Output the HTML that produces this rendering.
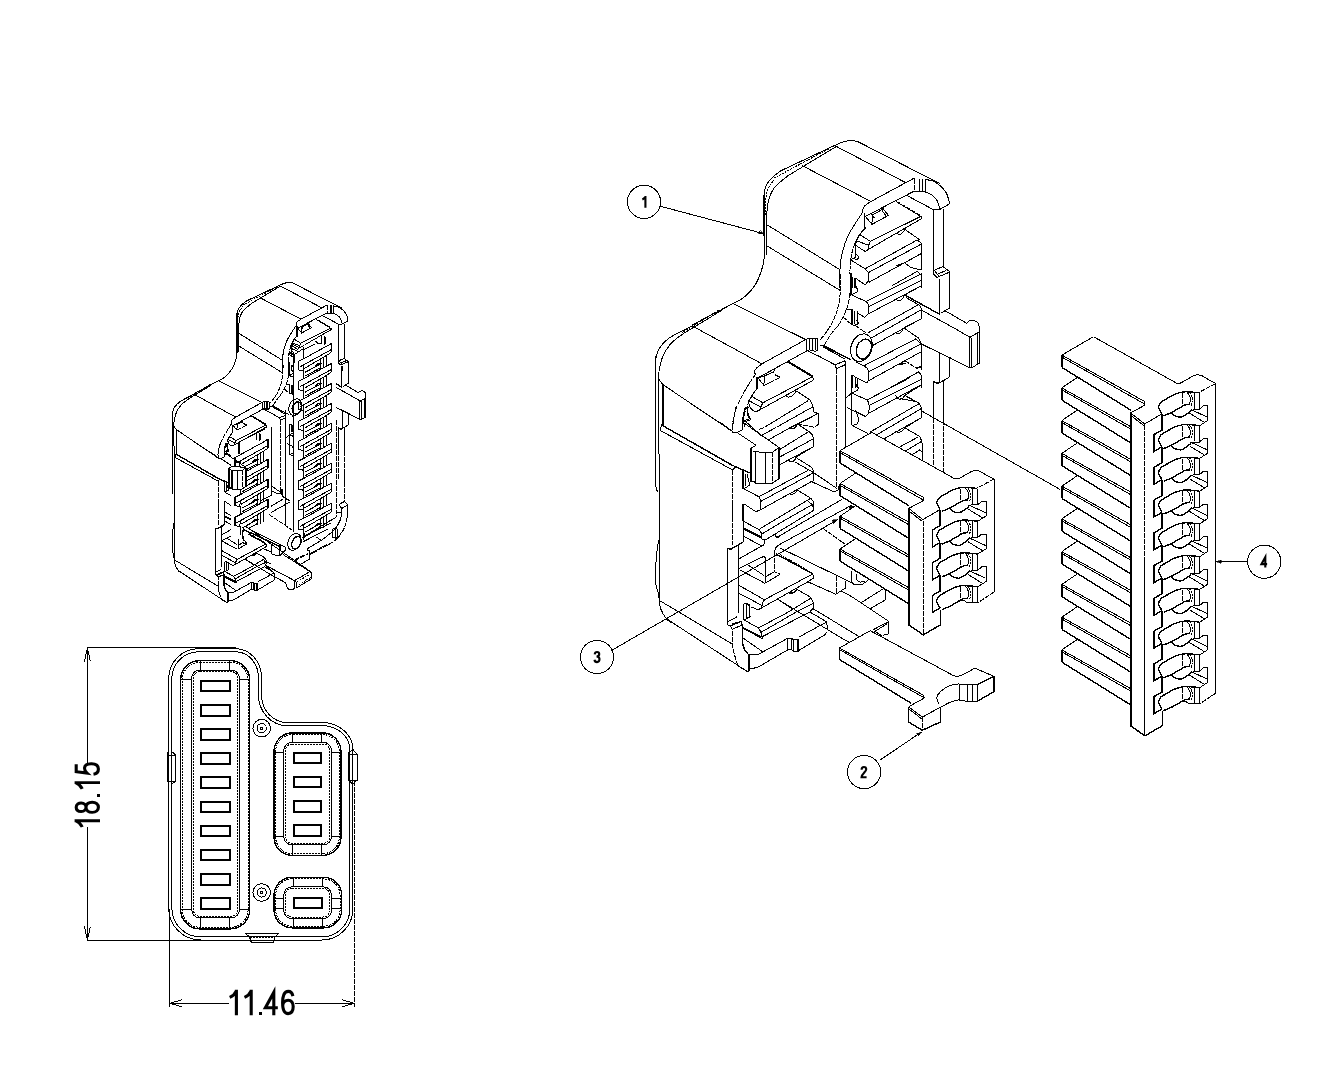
<!DOCTYPE html>
<html><head><meta charset="utf-8"><title>Connector assembly drawing</title>
<style>
html,body{margin:0;padding:0;background:#fff;}
body{width:1323px;height:1075px;overflow:hidden;font-family:"Liberation Sans",sans-serif;}
svg{display:block;shape-rendering:crispEdges}
.l{fill:none;stroke:#000;stroke-width:1}
.m{fill:none;stroke:#000;stroke-width:1.4}
.b{fill:none;stroke:#000;stroke-width:2}
.d{fill:none;stroke:#000;stroke-width:1;stroke-dasharray:2 1}
.d2{fill:none;stroke:#000;stroke-width:1;stroke-dasharray:5 1}
.w{fill:#fff;stroke:none}
.sm path,.sm ellipse{vector-effect:non-scaling-stroke}
.k{fill:#000;stroke:#000;stroke-width:0.6}
.dt{font-family:"Liberation Sans",sans-serif;font-size:35px;fill:#000}
.bt{font-family:"Liberation Sans",sans-serif;font-size:16px;font-weight:bold;fill:#000;text-anchor:middle}
</style></head>
<body>
<svg width="1323" height="1075" viewBox="0 0 1323 1075">
<rect width="1323" height="1075" fill="#fff"/>
<g id="smalliso">
<g transform="translate(-220.7 197.7) scale(0.599 0.603)" class="sm">
<path class="l" d="M763.7 235.8 L763.7 198"/>
<path class="l" d="M763.7 198 C763.9 196.8 764.1 192.9 764.6 190.5 C765.2 188.1 765.9 185.9 767.2 183.7 C768.5 181.4 770.2 179.3 772.5 177.2 C774.8 175 779.4 171.9 780.8 170.8"/>
<path class="l" d="M780.8 170.8 L833.7 145.9"/>
<path class="l" d="M833.7 145.9 C835.2 145.2 840 143 842.8 142.1 C845.6 141.2 848 140.7 850.4 140.6 C852.7 140.5 856 141.2 857.2 141.3"/>
<path class="l" d="M857.2 141.3 L940 183.7"/>
<path class="l" d="M766.8 255.5 L766.9 211.6"/>
<path class="l" d="M766.9 211.6 C767.2 209.6 767.8 203.1 768.7 199.5 C769.7 196 771 193 772.5 190.5 C774 187.9 775.1 186.6 777.8 184.1 C780.4 181.6 786.6 176.8 788.4 175.4"/>
<path class="l" d="M788.4 175.4 L836.7 146.3"/>
<path class="d" d="M774 178.1 L830.7 147.8"/>
<path class="d" d="M765.1 214.7 C765.1 212.4 764.9 205.3 765.4 201.1 C765.9 196.8 766.5 192.5 768 189 C769.4 185.4 773 181.4 774 179.9"/>
<path class="m" d="M764.2 191.8 L764.2 257.1"/>
<path class="l" d="M764.2 257.1 C763.9 258.7 763.9 262.6 762.5 267.1 C761.1 271.6 758.9 278.8 755.8 283.8 C752.8 288.9 748 293.9 744.1 297.2 C740.2 300.6 734.4 302.8 732.4 303.9"/>
<path class="l" d="M732.4 303.9 L692.2 324.9"/>
<path class="l" d="M692.9 325.5 C690.9 326.5 684.8 329.4 680.8 331.6 C676.8 333.7 672.1 335.9 668.7 338.4 C665.3 340.9 662.5 343.7 660.4 346.7 C658.3 349.7 657.1 353.4 656.3 356.5 C655.5 359.7 655.7 364.1 655.6 365.6"/>
<path class="l" d="M721.6 310.4 L692.9 327.8"/>
<path class="l" d="M692.9 327.8 C690.9 329.1 684.6 332.6 680.8 335.4 C677 338.1 673.3 340.9 670.2 344.4 C667.2 347.9 664.6 352 662.7 356.5 C660.8 361.1 659.5 369.1 658.9 371.6"/>
<path class="d" d="M718.6 310.4 L682.3 332.3"/>
<path class="l" d="M658.9 371.6 L658.9 379.2 L662.7 384.5"/>
<path class="l" d="M836.7 146.6 L904.8 182.2"/>
<path class="l" d="M802 165.5 L871.5 201.8"/>
<path class="l" d="M766.5 224.5 L839 269.1"/>
<path class="l" d="M766.5 245.6 L839.8 290.2"/>
<path class="l" d="M733 303.6 L806.3 339.9"/>
<path class="l" d="M692.9 326.3 L762.4 364.1"/>
<path class="l" d="M662.7 384.5 L732.2 431.3"/>
<path class="l" d="M655.6 356 L655.6 486 L657.5 492"/>
<path class="l" d="M658.9 373 L659.2 600.5"/>
<path class="m" d="M663 384.5 L663 424.5"/>
<path class="l" d="M658.7 540 C658.3 542.5 657 549.7 656.5 555 C656 560.3 655.8 567.2 655.7 572 C655.6 576.8 655.5 580.7 655.9 584 C656.3 587.3 657.4 589.2 658 592 C658.6 594.8 659.2 599.1 659.5 600.5"/>
<path class="l" d="M659.2 600.5 C659.5 602 659.8 606.5 661 609.5 C662.2 612.5 664.7 616.5 666.3 618.6 C667.9 620.8 670 621.8 670.8 622.4"/>
<path class="l" d="M666.3 618.6 L747.2 671.5"/>
<path class="l" d="M659.5 600.5 L732.8 644.3"/>
<path class="l" d="M914.4 178 L870.9 201.5"/>
<path class="l" d="M870.9 201.5 C870.2 202 867.7 203.4 866.4 204.5 C865.1 205.5 863.8 206.7 863.2 207.9 C862.5 209.2 862.8 211.4 862.8 212.1"/>
<path class="l" d="M914.4 191 L865.4 216.4"/>
<path class="m" d="M864.5 212.9 L864.5 226.9 L865.4 228.9"/>
<path class="d2" d="M914.4 178.5 L914.4 191"/>
<path class="l" d="M919.8 178.5 L919.8 191.8"/>
<path class="l" d="M922.3 178.5 L922.3 191.8"/>
<path class="l" d="M925.3 178.5 L925.3 191.8"/>
<path class="l" d="M913.9 191.5 L919.8 191.8 L925.3 192"/>
<path class="l" d="M925.3 179.5 C926.6 179.8 930.4 180 932.8 181 C935.2 182 937.6 183.7 939.8 185.5 C942 187.3 944.3 189.6 945.8 192 C947.3 194.4 948.2 198 948.8 200 C949.4 202 949.2 203.3 949.3 204"/>
<path class="l" d="M949.3 204 L939.8 209.4 L933.8 209.9"/>
<path class="l" d="M925.3 192 C926.4 192.5 929.8 193.5 931.8 195 C933.8 196.5 936 198.5 937.3 201 C938.6 203.4 939.4 208 939.8 209.4"/>
<path class="l" d="M906.9 195.5 L933.8 209.9"/>
<path class="m" d="M933.3 209.9 L933.3 274.3 L937.3 277.3"/>
<path class="l" d="M943.3 208.9 L943.3 266.8"/>
<path class="l" d="M934.3 270.3 L942.8 266.6 L949.8 271.8 L949.8 287.8"/>
<path class="l" d="M937.3 277.3 L949.3 272.3"/>
<path class="l" d="M939.8 279.8 L939.8 287.8"/>
<path class="l" d="M938.3 273.8 L945.8 270.6"/>
<path class="l" d="M934.8 271.3 L938.8 275.8"/>
<path class="l" d="M865.4 216.4 L871.9 224.4 L888.4 215.4 L882.9 208.4"/>
<path class="l" d="M871.9 224.4 L872.4 215.1 L882.9 209.1"/>
<path class="l" d="M870.9 213.9 L874.4 217.9"/>
<path class="l" d="M882.9 208.4 L882.9 211.9 L885.9 215.4"/>
<path class="d" d="M895.4 200.5 L921.3 216.1"/>
<path class="l" d="M895.9 201.5 L919.8 215.7"/>
<path class="l" d="M921.3 216.1 L870.4 241.4"/>
<path class="l" d="M922 218.4 L868.4 249.4"/>
<path class="l" d="M921.3 216.1 L922 218.4"/>
<path class="l" d="M870.4 241.4 C870.2 242 869.3 243.5 868.9 244.9 C868.6 246.2 868.5 248.6 868.4 249.4"/>
<path class="l" d="M859.5 234.4 L870.4 241.4"/>
<path class="l" d="M857 240.9 L868.9 245.4"/>
<path class="l" d="M855 244.9 L865 251.4 L868.4 249.4"/>
<path class="l" d="M859.5 234.4 L855 244.9"/>
<path class="l" d="M865.4 228.9 L859.5 234.4"/>
<path class="l" d="M904.9 229.4 L919.8 239.9"/>
<path class="l" d="M897.4 233.4 C897.8 233.6 899 234.8 899.9 234.7 C900.7 234.6 901.5 233.8 902.4 232.9 C903.2 232 904.5 230 904.9 229.4"/>
<path class="l" d="M862.8 212.1 C861.5 214.1 857.4 220 855 223.9 C852.5 227.9 850 231.6 848 235.9 C846 240.2 844.2 245.4 843 249.9 C841.7 254.4 841.1 257.8 840.5 262.8 C839.9 267.8 839.7 275.6 839.5 279.8 C839.3 284 839.5 286.5 839.5 287.8"/>
<path class="d2" d="M865 227.9 C864 229.2 860.8 232.9 859 235.9 C857.1 238.9 855.3 242.2 854 245.9 C852.6 249.5 851.6 253.9 851 257.8 C850.3 261.8 850.1 264.8 850 269.8 C849.9 274.8 850.4 284.8 850.5 287.8"/>
<path class="l" d="M917.3 239.9 L865 268.8"/>
<path class="l" d="M921.6 243.9 L868.9 272.3"/>
<path class="l" d="M921.6 253.4 L868.9 282.3"/>
<path class="l" d="M921.6 243.4 L921.6 269.8"/>
<path class="l" d="M917.3 239.9 L921.6 243.4"/>
<path class="l" d="M865 268.8 C865.4 269.3 867.3 270.7 867.9 271.8 C868.6 273 868.9 274.3 868.9 275.8 C869 277.3 869.1 279.3 868.4 280.8 C867.8 282.3 865.5 284.1 865 284.8"/>
<path class="l" d="M850.5 259.8 L865 268.8"/>
<path class="l" d="M855 277.8 L865 284.8"/>
<path class="l" d="M855 244.9 L855 257.8 L850.5 259.8"/>
<path class="l" d="M856.5 254.4 C856.8 254.8 858.4 255.9 858.5 256.8 C858.5 257.8 857.5 259.4 857 259.8 C856.4 260.3 855.3 259.4 855 259.3"/>
<path class="m" d="M855 277.8 L855 287.8"/>
<path class="m" d="M852 277.3 L852 287.8"/>
<path class="l" d="M895.9 265.8 L904.9 262.8 L921.3 253.4"/>
<path class="l" d="M904.9 262.8 C905.7 263.5 908 265.8 909.9 266.8 C911.7 267.8 913.9 268.3 915.8 268.8 C917.8 269.3 920.4 269.7 921.3 269.8"/>
<path class="l" d="M917.3 271.3 L921.8 275.8 L921.8 287.8"/>
<path class="l" d="M917.3 271.3 L891.9 285.8"/>
<path class="d2" d="M840.8 274 C840.8 275 841 277.3 841 280 C840.9 282.7 840.8 286.2 840.5 290 C840.1 293.8 839.7 299 839 303 C838.2 306.9 837.3 310.3 836 313.9 C834.6 317.6 832.8 321.6 831 324.9 C829.1 328.2 826.8 331.4 825 333.9 C823.2 336.4 820.8 338.9 820 339.9"/>
<path class="d2" d="M849.9 293 C849.7 294.6 849.3 299.6 848.4 303 C847.6 306.3 846.4 309.6 845 312.9 C843.5 316.3 842.1 319.6 840 322.9 C837.8 326.2 834.6 329.2 832 332.9 C829.3 336.6 825.3 343.3 824 345.4"/>
<path class="l" d="M820 346.1 L824 345.1"/>
<path class="l" d="M824 345.4 L850.9 359.8"/>
<path class="l" d="M823 346.7 L835 353.4"/>
<path class="l" d="M820 356.8 L835 364.8 L845 360.8"/>
<path class="l" d="M835 364.8 L836.5 368.8 L845 364.8"/>
<path class="d2" d="M836.5 368.8 L836.5 387.8"/>
<path class="l" d="M845.4 361.3 L845.4 387.8"/>
<path class="m" d="M850.9 273 L850.9 295"/>
<path class="m" d="M851.9 309.4 L851.9 324.9"/>
<path class="l" d="M854.9 310.9 L854.9 323.9"/>
<path class="l" d="M857.4 310.9 L857.4 323.9"/>
<path class="l" d="M855.4 283 C855.6 283.7 856 286.3 856.4 287.5 C856.9 288.6 858 289.2 858.1 290 C858.2 290.8 857.1 291.8 856.9 292.2"/>
<path class="l" d="M856.9 292.2 L849.9 295.5"/>
<path class="l" d="M856.4 319.9 C856.8 320.3 858.3 321.6 858.4 322.4 C858.6 323.2 857.9 324.6 857.4 324.9 C856.9 325.2 855.8 324.5 855.4 324.4"/>
<path class="l" d="M845.9 308.9 L851.9 309.9"/>
<path class="d2" d="M843 316.9 L851.9 324.9 L855.4 325.4"/>
<path class="d2" d="M855.4 325.4 L865.9 332.9"/>
<path class="l" d="M851.9 295 L865.9 301.5"/>
<path class="l" d="M865.9 301.5 C866.3 302 867.9 303 868.4 304.5 C868.9 305.9 868.9 308.4 868.9 309.9 C868.9 311.5 868.5 313.3 868.4 313.9"/>
<path class="l" d="M868.4 313.9 L864.9 317.4 L857.9 313.4"/>
<path class="l" d="M865.9 301.5 L921.8 273.5"/>
<path class="l" d="M868.9 306.4 L921.8 280"/>
<path class="l" d="M868.4 313.9 L921.8 285.5"/>
<path class="l" d="M921.8 274 L921.8 285.5"/>
<path class="l" d="M895.8 299.5 C896.3 299.6 897.8 300.5 898.8 300.5 C899.9 300.4 901.3 299.9 902.3 299 C903.3 298 904.4 295.6 904.8 295"/>
<path class="l" d="M904.8 295 L921.8 285.5"/>
<path class="m" d="M904.8 295 L939.8 314.4"/>
<path class="l" d="M905.8 297.5 L918.8 304.8"/>
<ellipse class="l" cx="861.4" cy="347.7" rx="10.4" ry="14.2" transform="rotate(20 861.4 347.7)"/>
<ellipse class="m" cx="863.9" cy="349.1" rx="7.3" ry="10.2" transform="rotate(20 863.9 349.1)"/>
<path class="l" d="M867.9 332.9 L918.8 304.5"/>
<path class="l" d="M871.4 337.9 L921 309.9"/>
<path class="l" d="M872.9 345.4 L921.8 318.4"/>
<path class="l" d="M918.8 304.5 L921.8 308.9 L921.8 318.4"/>
<path class="l" d="M894.9 332.4 C895.4 332.6 897.3 333.5 898.3 333.4 C899.4 333.3 900.4 332.8 901.3 331.9 C902.3 331 903.4 328.6 903.8 327.9"/>
<path class="l" d="M903.8 327.9 L921.8 318.4"/>
<path class="l" d="M903.8 327.9 L918.3 337.9"/>
<path class="l" d="M918.3 337.9 C918.6 338.4 919.2 339.9 919.8 340.9 C920.4 341.9 921.5 343.4 921.8 343.9"/>
<path class="l" d="M921.8 343.9 L952 358.8"/>
<path class="l" d="M921 309.9 L952 326.9"/>
<path class="l" d="M855.9 361.8 L863.9 365.8"/>
<path class="l" d="M863.9 365.8 C864.6 366.4 867.1 367.8 867.9 369.3 C868.7 370.8 868.8 372.9 868.9 374.8 C869 376.7 868.5 379.8 868.4 380.8"/>
<path class="l" d="M868.4 380.8 L866.9 382.8 L857.4 378.3"/>
<path class="l" d="M863.9 365.8 L915.8 338.9"/>
<path class="l" d="M868.9 371.8 L921 343.9"/>
<path class="l" d="M868.4 380.8 L921 351.9"/>
<path class="l" d="M921.6 343.9 L921.6 369.8"/>
<path class="l" d="M915.8 338.9 L921 343.9"/>
<path class="l" d="M895.8 365.8 L904.8 360.8 L921 351.9"/>
<path class="d2" d="M904.8 360.8 L917.8 368.8"/>
<path class="m" d="M897.8 364.8 L905.8 363.3"/>
<path class="l" d="M890.9 387.3 L918.8 371.8 L921.8 375.8 L921.8 387.8"/>
<path class="m" d="M915.8 367.8 L921.6 366.8"/>
<path class="m" d="M851.9 374.8 L851.9 387.8"/>
<path class="l" d="M855.4 376.8 L855.4 387.8"/>
<path class="l" d="M851.9 374.8 L857.4 378.3 L857.4 387.8"/>
<path class="l" d="M939.3 279 L939.3 314.4"/>
<path class="l" d="M949.7 279 L949.7 307.9 L941.3 312.9"/>
<path class="l" d="M939.8 352.9 L939.8 382.3"/>
<path class="l" d="M949.7 357.3 L949.7 376.8 L939.8 382.8 L933.8 381.8 L933.8 387.8"/>
<path class="l" d="M945.7 311.1 L966.9 323.4"/>
<path class="l" d="M966.9 323.4 C967.1 323 967.6 321.9 968.4 321.4 C969.1 320.9 970.4 320.5 971.4 320.4 C972.4 320.2 973.2 320.2 974.4 320.7 C975.5 321.2 977.5 322 978.3 323.4 C979.2 324.7 979.2 327.9 979.3 328.8"/>
<path class="l" d="M952 326.8 L969.9 337.3 L979.3 331.8"/>
<path class="l" d="M979.3 328.8 L979.3 363.8"/>
<path class="l" d="M921.5 344 L968.9 367.4 L972.4 367.4 L979.3 363.2"/>
<path class="l" d="M969.4 337.5 L969.4 367.4"/>
<path class="l" d="M971.4 337.5 L971.4 367.4"/>
<path class="l" d="M977.3 333 L977.3 364.5"/>
<path class="l" d="M979.3 329 L979.3 363.2"/>
<path class="l" d="M933.4 387.8 L933.4 419.3"/>
<path class="l" d="M943.4 379.9 L943.4 419.8"/>
<path class="d2" d="M836.5 380 L836.5 487.8"/>
<path class="l" d="M845.7 380 L845.7 449.9"/>
<path class="m" d="M851.7 380 L851.7 425.4"/>
<path class="l" d="M855.4 380 C855.6 381 855.9 384.7 856.4 386 C856.9 387.3 858.3 387.2 858.4 388 C858.6 388.7 857.6 390.1 857.4 390.5"/>
<path class="l" d="M857.4 390.5 L851.9 393 L846.4 397.5"/>
<path class="l" d="M851.9 393 L866.9 400"/>
<path class="l" d="M866.9 400 C867.2 400.5 868.3 401.5 868.7 403 C869.1 404.5 869.2 407.2 869.1 408.9 C869.1 410.7 868.5 412.7 868.4 413.4"/>
<path class="l" d="M868.4 413.4 L865.4 416.4 L846.9 407.4"/>
<path class="l" d="M866.9 400 L910.3 377.5"/>
<path class="l" d="M868.9 405.4 L921.8 379"/>
<path class="l" d="M868.4 413.4 L921.8 384.5"/>
<path class="l" d="M921.8 375 L921.8 384.5"/>
<path class="l" d="M895.3 395.5 C895.9 396.1 897.7 398.5 898.8 399 C900 399.5 901.3 399 902.3 398.5 C903.3 397.9 904.4 396 904.8 395.5"/>
<path class="l" d="M904.8 395.5 L921.8 384.5"/>
<path class="l" d="M904.8 395.5 L919.8 403.5"/>
<path class="l" d="M899.8 398.5 L915.8 401.5"/>
<path class="l" d="M870.4 431.9 L919.3 403.5"/>
<path class="l" d="M877.4 434.4 L920.8 408.9"/>
<path class="l" d="M883.9 438.9 L921.8 417.4"/>
<path class="l" d="M919.3 403.5 L921.8 408.9 L921.8 417.4"/>
<path class="l" d="M851.9 425.4 L867.9 433.4"/>
<path class="l" d="M855.4 409.9 C855.8 410.9 857.2 414.1 857.7 415.9 C858.2 417.8 858.6 419.6 858.4 420.9 C858.3 422.2 857.2 423.4 856.9 423.9"/>
<path class="l" d="M856.9 423.9 L852.9 425.4"/>
<path class="l" d="M895.3 431.4 C895.9 431.6 897.7 432.5 898.8 432.4 C900 432.3 901.3 431.6 902.3 430.9 C903.3 430.1 904.4 428.4 904.8 427.9"/>
<path class="l" d="M904.8 427.9 L921.8 417.4"/>
<path class="l" d="M904.8 427.9 L919.8 436.4"/>
<path class="l" d="M919.8 436.4 C920.1 437.3 921.3 439.6 921.8 441.9 C922.3 444.1 922.4 446.9 922.6 449.9 C922.8 452.9 922.8 458.2 922.8 459.8"/>
<path class="l" d="M899.8 446.9 L918.3 436.9"/>
<path class="l" d="M904.8 451.4 L920.8 441.9"/>
<path class="l" d="M911.8 454.9 L919.8 449.9 L921.8 451.9"/>
<path class="l" d="M933.8 382 L933.8 417.9"/>
<path class="d2" d="M933.8 417.9 L933.8 467.8"/>
<path class="l" d="M943.8 380 L943.8 419.9"/>
<path class="d2" d="M943.8 419.9 L943.8 472.8"/>
<path class="l" d="M933.8 382 L937.8 384 L943.8 380"/>
<path class="l" d="M806.8 339 L761.9 363.9"/>
<path class="l" d="M761.9 363.9 C761.1 364.5 758.2 366.5 756.9 367.7 C755.7 369 754.7 370.3 754.5 371.4 C754.2 372.5 755.3 373.9 755.4 374.4"/>
<path class="l" d="M806.8 350.9 L757.9 377.9"/>
<path class="m" d="M756.9 376.9 L756.9 388.9 L755.9 389.9"/>
<path class="l" d="M806.8 338.7 L806.8 350.4"/>
<path class="l" d="M809.8 338.7 L809.8 350.4"/>
<path class="l" d="M812.8 338.7 L812.8 350.4"/>
<path class="l" d="M815.3 338.7 L815.3 350.4"/>
<path class="l" d="M817.8 338.7 L817.8 350.4"/>
<path class="l" d="M806.8 350.4 L809.8 349.9 L815.3 351.4 L817.8 349.9"/>
<path class="l" d="M806.8 338.6 L817.8 338.6"/>
<path class="l" d="M822.8 345.9 L851.3 359.9"/>
<path class="l" d="M824.8 347.9 L844.8 358.9"/>
<path class="l" d="M807.8 350.9 L820.3 356.9"/>
<path class="l" d="M757.9 377.9 L763.9 385.4"/>
<path class="l" d="M763.9 385.4 L764.4 375.9 L773.9 371.9 L774.4 369.4"/>
<path class="d2" d="M763.9 385.4 L779.9 377.4"/>
<path class="m" d="M774.9 374.4 L779.9 377.4"/>
<path class="l" d="M759.9 377.4 L764.4 375.9"/>
<path class="l" d="M787.4 361.9 L812.3 376.9"/>
<path class="l" d="M788.4 361.4 L812.8 375.9"/>
<path class="l" d="M812.3 376.9 L762.9 402.8"/>
<path class="l" d="M813.3 380.2 L759.9 409.8"/>
<path class="l" d="M812.3 376.9 L813.8 378.9 L813.3 380.4"/>
<path class="l" d="M762.9 402.8 C762.6 403.4 761.6 405.2 761.1 406.3 C760.6 407.5 760.1 409.2 759.9 409.8"/>
<path class="l" d="M759.9 409.8 L755.9 411.8 L753 410.8"/>
<path class="l" d="M751.5 396.3 L762.9 402.8"/>
<path class="l" d="M749 400.8 L760.9 406.8"/>
<path class="l" d="M755.9 389.9 L751.5 396.3 L748.5 401.3"/>
<path class="l" d="M748.5 401.3 C748.7 402.3 749.2 405.2 750 406.8 C750.7 408.4 752.5 410.2 753 410.8"/>
<path class="l" d="M785.9 396.3 C786.4 396.5 787.7 397.2 788.9 397 C790 396.9 791.6 396.4 792.9 395.3 C794.1 394.3 795.8 391.6 796.4 390.9"/>
<path class="l" d="M796.4 390.9 L809.8 399.8"/>
<path class="l" d="M809.8 399.8 C810.3 400.6 811.7 402.3 812.3 404.3 C813 406.3 813.6 410.6 813.8 411.8"/>
<path class="l" d="M808.3 400.6 L764.4 427.3"/>
<path class="l" d="M812.8 406.8 L776.4 427.3"/>
<path class="l" d="M817.8 413.8 L789.9 427.8"/>
<path class="l" d="M813.8 411.8 L818.3 413.8 L818.8 423.8 L814.8 427.3"/>
<path class="d2" d="M755.4 374.4 C754.4 376 751.4 380 749 383.9 C746.6 387.8 743.3 393.2 741 397.8 C738.6 402.5 736.5 406.8 735 411.8 C733.5 416.8 732.5 425.1 732 427.8"/>
<path class="d2" d="M755.9 389.9 C755.2 391 753 394 751.5 396.8 C750 399.7 748.2 403.7 747 406.8 C745.7 410 744.7 412.3 744 415.8 C743.2 419.3 742.7 425.8 742.5 427.8"/>
<path class="m" d="M747 407.8 L748.5 417.8"/>
<path class="l" d="M748.5 417.8 C748.8 417.9 750.3 417.9 750.5 418.3 C750.6 418.7 750.7 419.7 749.5 420.3 C748.2 420.9 744.1 421.5 743 421.8"/>
<path class="l" d="M745 407.8 L748.5 407.8"/>
<path class="l" d="M745 407.8 L742.5 419.8 L745 427.3"/>
<path class="d2" d="M736 407 C735.6 409.2 734.1 415.8 733.5 420 C732.9 424.1 732.6 430 732.5 432"/>
<path class="l" d="M745.4 407 C745 409 743.3 415.2 742.8 419 C742.3 422.8 742.5 428.1 742.5 430"/>
<path class="l" d="M732.5 432.2 L737 432.5 L743 429.5"/>
<path class="l" d="M746.9 410 C747.2 410.9 748.2 414.1 748.7 415.5 C749.2 416.9 749.7 418 749.9 418.5"/>
<path class="l" d="M749.9 418.5 L744 421"/>
<path class="m" d="M661.3 424.8 L733.7 466.1"/>
<path class="m" d="M733.7 466.1 L749.9 472.9"/>
<path class="l" d="M660.5 430.6 L732.5 469.9"/>
<path class="l" d="M732.5 469.9 L736.5 465.9"/>
<path class="l" d="M661.3 424.8 L660.5 430.6"/>
<path class="m" d="M720 422.5 L731 430.5"/>
<path class="l" d="M737 432.5 L756.4 445.4"/>
<path class="l" d="M744 423 L778.9 447.4"/>
<path class="l" d="M744.5 420.5 L761.9 436.1"/>
<path class="d2" d="M732.5 469.9 L732.5 517.8"/>
<path class="m" d="M750.9 447.9 L750.9 480.9 L754.9 481.9"/>
<path class="m" d="M778.9 447.4 L778.9 478.9"/>
<path class="l" d="M750.9 447.9 L756.4 445.4"/>
<path class="l" d="M752.9 451.4 L762.9 452.4 L771.9 452.9 L778.9 447.4"/>
<path class="m" d="M755.4 452.4 L755.4 483.4"/>
<path class="l" d="M765.4 452.9 L765.4 483.4"/>
<path class="d2" d="M772.4 451.9 L772.4 482.1"/>
<path class="l" d="M755.4 483.4 L771.9 483.4 L778.9 478.9"/>
<path class="m" d="M743 470.9 L743 488.8"/>
<path class="m" d="M743 503.8 L743 517.8"/>
<path class="l" d="M746.9 473.9 C747.2 474.9 748 478.1 748.4 479.9 C748.9 481.6 749.8 483.3 749.7 484.4 C749.7 485.4 748.2 486 747.9 486.3"/>
<path class="l" d="M747.9 486.3 L744 488.8"/>
<path class="l" d="M745.9 473.9 L745.9 485.8"/>
<path class="l" d="M758.9 429.5 L764.4 427.3"/>
<path class="l" d="M761.4 435.4 L776.4 427.3"/>
<path class="l" d="M768.4 439.9 L789.9 427.8"/>
<path class="l" d="M818.8 413.8 L818.8 423.8 L814.8 427.3"/>
<path class="l" d="M789.9 428 C790.5 428 792.8 428.8 793.9 428.5 C794.9 428.1 795.8 426.7 796.3 426 C796.9 425.2 797.2 424.3 797.3 424"/>
<path class="d2" d="M797.3 424 L814.8 427.3"/>
<path class="l" d="M797.3 424 L808.8 431.5"/>
<path class="l" d="M779.9 449.4 L808.8 431.5"/>
<path class="l" d="M779.9 456.9 L813.3 438.9"/>
<path class="l" d="M779.4 464.9 L813.8 446.4"/>
<path class="l" d="M808.8 431.5 C809.4 432 811.5 433.5 812.3 435 C813.1 436.4 813.4 438 813.6 439.9 C813.9 441.9 813.8 445.3 813.8 446.4"/>
<path class="m" d="M787.9 460.4 C788.4 460.6 790.3 461.4 791.4 461.4 C792.4 461.4 793.6 461.1 794.4 460.4 C795.1 459.7 795.6 457.9 795.8 457.4"/>
<path class="l" d="M795.8 457.4 L813.8 446.4"/>
<path class="l" d="M795.8 457.4 L810.8 466.9"/>
<path class="l" d="M810.8 466.9 C811.2 467.3 812.4 468.5 812.8 469.4 C813.2 470.3 813.2 471.9 813.3 472.4"/>
<path class="l" d="M794.9 461.9 L813.3 472.4"/>
<path class="l" d="M813.3 472.4 L837.3 488.8"/>
<path class="l" d="M744 488.8 L758.9 496.8"/>
<path class="l" d="M758.9 496.8 C759.2 497.5 760.4 499.3 760.7 500.8 C761.1 502.3 761 504.3 760.9 505.8 C760.8 507.3 760.3 509.1 760.1 509.8"/>
<path class="l" d="M760.1 509.8 L755.9 511.8 L744 503.8"/>
<path class="l" d="M758.9 496.8 L807.8 470.4"/>
<path class="l" d="M760.9 501.3 L813.3 472.9"/>
<path class="l" d="M760.4 509.8 L813.8 480.4"/>
<path class="l" d="M813.3 472.4 L813.8 480.4"/>
<path class="l" d="M788.9 493.8 C789.4 493.9 791.3 494.5 792.4 494.3 C793.4 494.2 794.6 493.6 795.3 492.8 C796.1 492.1 796.6 490.3 796.8 489.8"/>
<path class="l" d="M796.8 489.8 L813.8 480.4"/>
<path class="l" d="M796.8 489.8 L810.8 498.3"/>
<path class="l" d="M810.8 498.3 C811.2 498.9 812.8 500.6 813.3 501.8 C813.8 503.1 813.7 504.3 813.8 505.8 C813.9 507.3 813.8 510 813.8 510.8"/>
<path class="l" d="M809.8 480.9 L832.8 491.3 L837.8 490.8"/>
<path class="l" d="M778.9 517.3 L809.8 498.8"/>
<path class="l" d="M789.9 517.3 L813.8 503.8"/>
<path class="d2" d="M836.3 410 L836.3 488.8"/>
<path class="l" d="M845.7 410 L845.7 443.9"/>
<path class="m" d="M839.3 483.9 C839.3 485 838.9 488.8 839.3 490.8 C839.6 492.8 839.1 493.8 841.3 495.8 C843.4 497.8 850.2 501.7 852 502.8"/>
<path class="d2" d="M732.5 505 L732.5 544.9"/>
<path class="m" d="M727.5 548.4 L731 549.1 L741.5 543.1 L743 542.4"/>
<path class="l" d="M727.5 548.4 L727.5 612.8"/>
<path class="l" d="M738 544.9 L738 612.8"/>
<path class="m" d="M743 505 L743 521"/>
<path class="l" d="M743 521 L758.9 529.5"/>
<path class="b" d="M743 528.2 L760.9 537.1"/>
<path class="l" d="M743 535.9 L761.4 545.9 L763.9 544.9 L764.9 539.9 L761.4 538.9 L761.9 533.9 L758.9 529.5"/>
<path class="l" d="M743 521 L743 542.4"/>
<path class="l" d="M758.9 529.5 L778.9 517.3"/>
<path class="l" d="M761.9 533.9 L789.9 517.3"/>
<path class="l" d="M765.4 539.9 L810.3 512.5"/>
<path class="l" d="M807.8 501 C808.6 501.7 811.4 503.5 812.3 505 C813.2 506.5 813.6 508.7 813.3 510 C813 511.2 810.8 512.1 810.3 512.5"/>
<path class="m" d="M774.9 534.4 C775.1 534.8 775.4 536.3 775.9 536.7 C776.4 537.2 777.2 537.3 777.9 537.1 C778.5 537 779.5 536.1 779.9 535.9"/>
<path class="l" d="M779.9 535.7 L841.9 499.4"/>
<path class="l" d="M738 559.4 L761.9 545.9"/>
<path class="l" d="M778.9 544.9 L852 505"/>
<path class="l" d="M778.9 544.9 C778.3 545.4 776.4 546.7 775.7 547.9 C774.9 549.1 774.6 551.2 774.4 551.9"/>
<path class="d2" d="M774.4 551.9 L774.4 571.9 L779.9 573.9"/>
<path class="l" d="M738 568.9 L761.9 556.9"/>
<path class="m" d="M761.9 556.9 C762.4 556.9 764.2 556.4 764.9 557.1 C765.6 557.8 765.7 560.3 765.9 560.9"/>
<path class="l" d="M765.9 560.9 L765.9 582.8"/>
<path class="l" d="M740 569.9 L764.9 583.3"/>
<path class="l" d="M747.9 564.9 L763.9 575.4"/>
<path class="l" d="M765.9 576.4 L774.4 571.9"/>
<path class="l" d="M765.9 582.8 L779.9 574.4"/>
<path class="m" d="M775.9 553.9 L812.8 573.9"/>
<path class="d" d="M779.9 554.4 L809.8 571.4"/>
<path class="l" d="M812.8 573.9 L813.8 577.9 L807.8 581.8"/>
<path class="l" d="M812.8 573.9 L764.4 599.8"/>
<path class="l" d="M807.8 581.8 L761.9 607.8"/>
<path class="l" d="M764.4 599.8 C764.1 600.4 762.8 602 762.4 603.3 C762 604.6 762 607 761.9 607.8"/>
<path class="l" d="M761.9 607.8 L757.9 609.8 L750.9 606.8"/>
<path class="l" d="M738 584.8 L764.4 599.8"/>
<path class="l" d="M738 592.8 L761.7 605.3"/>
<path class="l" d="M779.9 547.9 L852 582.8"/>
<path class="l" d="M807.8 581.8 L835.8 594.3 L845.7 587.8 L845.7 580.8"/>
<path class="d2" d="M836.3 575.9 L836.3 593.8"/>
<path class="l" d="M840.8 590.8 L852 596.8"/>
<path class="m" d="M788.9 592.8 C789.4 592.9 791.3 593.3 792.4 593 C793.4 592.8 794.6 591.9 795.3 591.3 C796.1 590.7 796.6 589.7 796.8 589.3"/>
<path class="l" d="M796.8 589.3 L809.8 596.8"/>
<path class="l" d="M809.8 596.8 C810.3 597.6 812.1 599.6 812.8 601.3 C813.5 603 813.6 605.9 813.8 606.8"/>
<path class="l" d="M776.9 598.8 L791.9 608.8"/>
<path class="l" d="M787.9 612.3 L809.8 598.8"/>
<path class="l" d="M795.8 612.3 L812.8 603.8"/>
<path class="l" d="M743.5 603.8 L743.5 612.8"/>
<path class="l" d="M746.4 603.8 L746.4 612.8"/>
<path class="l" d="M749.4 603.8 L749.4 612.8"/>
<path class="l" d="M743.5 603.6 L746.4 603.6 L749.4 604.8"/>
<path class="l" d="M727.5 612.8 L727.5 624.9 L730 625.9"/>
<path class="l" d="M727.5 621.9 L737.5 616.5"/>
<path class="m" d="M730 625.9 L741 621.4 L743 627.9"/>
<path class="l" d="M732 629.4 L742.5 624.9"/>
<path class="d" d="M732 623.9 L737.5 621.9"/>
<path class="d2" d="M730 625.9 C730.4 626.6 732.1 627.6 732.5 629.9 C732.9 632.3 732.3 636.4 732.5 639.9 C732.6 643.4 732.6 646.6 733.5 650.9 C734.4 655.2 737.2 663.4 738 665.9"/>
<path class="m" d="M742.5 627.9 C742.5 630.4 742 639.1 742.5 642.9 C743 646.7 744.4 648.9 745.4 650.9 C746.5 652.9 748.4 654.2 748.9 654.9"/>
<path class="b" d="M748.9 654.9 L748.9 671.3"/>
<path class="l" d="M738 665.9 L746.9 671.3 L749.4 671.3"/>
<path class="d2" d="M717 634.9 L732 643.9"/>
<path class="l" d="M743.5 603.5 L743.5 620.4"/>
<path class="l" d="M743.5 603.5 L746.9 603.5 L749.4 606 L749.4 615 L750.4 616.5 L744 620"/>
<path class="l" d="M746.4 604 L746.4 618.5"/>
<path class="l" d="M744 620 L758.4 627.9"/>
<path class="l" d="M758.4 627.9 C758.8 628.6 760.1 630.4 760.7 631.9 C761.3 633.4 761.6 635.8 761.9 636.9 C762.3 638.1 762.7 638.6 762.9 638.9"/>
<path class="b" d="M743 628.1 L760.9 637.1"/>
<path class="l" d="M743.5 638.4 L762.9 651.9"/>
<path class="l" d="M760.9 638.9 L762.9 638.6"/>
<path class="l" d="M758.4 627.9 L787.9 612.3"/>
<path class="l" d="M760.9 632.4 L795.8 612.3"/>
<path class="l" d="M761.9 636.9 L809.8 612"/>
<path class="l" d="M809.8 612 C810.3 611.4 812.1 609.7 812.8 608.5 C813.5 607.2 813.6 605.1 813.8 604.5"/>
<path class="l" d="M776.9 598.8 L827.3 629.4"/>
<path class="l" d="M811.8 608 L859.7 636.9"/>
<path class="l" d="M809.8 612 L826.8 621.9 L827.3 629.4"/>
<path class="l" d="M762.9 651.9 L787.9 638.1"/>
<path class="l" d="M798.8 637.1 L826.8 621.9"/>
<path class="l" d="M749.4 668.9 C750.1 668.7 754.7 668.1 755.9 667.7 C757.2 667.3 758.7 666.7 761.9 664.9 C765.1 663.1 785.3 651.2 787.9 649.7"/>
<path class="l" d="M798.8 650.5 C800.9 649.2 817.2 639.5 819.8 637.9 C822.4 636.4 824 635.6 824.8 634.9 C825.5 634.3 827 631.8 827.3 631.4"/>
<path class="l" d="M748.9 654.9 L757.9 654.7 L763.9 651.7"/>
<path class="l" d="M787.9 638.1 L787.9 649.8"/>
<path class="l" d="M791.4 638.1 L791.4 649.8"/>
<path class="l" d="M793.4 639.6 L793.4 651.3"/>
<path class="l" d="M797.3 639.6 L797.3 651.3"/>
<path class="l" d="M798.8 639.6 L798.8 651.3"/>
<path class="l" d="M787.9 638.1 L791.4 638.1 L793.4 639.6 L798.8 639.6"/>
<path class="l" d="M787.9 649.6 L791.4 649.6 L793.4 651.4 L798.8 651.4"/>
</g>
<path class="w" d="M294.2 353 L299.5 348.3 L331.6 330 L336 330 L336 500 L344.5 500 L346 520 L338 545 L322 556 L300 566 L282 560 L282 548 L294.2 542Z"/>
<path class="w" d="M231 449 L236 446 L266 428 L270.5 428 L270.5 520 L262 527 L236 540 L231 540Z"/>
<path class="l" d="M293.7 352 L293.7 532"/>
<path class="l" d="M303.6 347 L303.6 540"/>
<path class="l" d="M289 351.9 L294 354.9 L302.9 348.9"/>
<path class="l" d="M294 354.9 L294 362.9"/>
<path class="l" d="M291.5 343.9 L299.9 347.9"/>
<path class="l" d="M290 347.9 L298.9 351.9"/>
<path class="l" d="M321.9 336 L321.9 343.9"/>
<path class="l" d="M324.4 335.5 L324.4 344.9"/>
<path class="l" d="M325.9 336.5 L325.9 343.9"/>
<path class="m" d="M315.4 340.9 C315.8 341.4 316.9 343 317.9 343.4 C318.9 343.9 320.8 343.4 321.4 343.4"/>
<path class="l" d="M304.4 349.4 L315.4 343.9"/>
<path class="w" d="M298.4 361.4 L329.8 343.9 L331.3 343.9 L331.3 352.4 L304.4 368.4 L302.9 370.4 L298.4 369.9Z"/>
<path class="m" d="M298.4 361.4 L298.4 369.9"/>
<path class="l" d="M298.4 361.4 L303.4 358.9 L329.8 344.4"/>
<path class="l" d="M298.4 369.9 L302.9 370.4 L303.9 365.4"/>
<path class="l" d="M299.9 366.9 L330.8 349.9"/>
<path class="m" d="M329.8 343.9 L331.3 343.9 L331.3 352.4"/>
<path class="l" d="M331.3 352.4 L325.8 355.9 L304.4 368.4"/>
<path class="l" d="M303.9 370.4 L303.9 378.9"/>
<path class="l" d="M304.9 372.4 L321.9 363.4"/>
<path class="l" d="M305.4 375.9 L320.4 367.9"/>
<path class="m" d="M315.4 366.4 C315.8 366 316.9 364.5 317.9 364 C318.9 363.5 320.8 363.7 321.4 363.6"/>
<path class="l" d="M320.9 358.4 L320.9 369.4"/>
<path class="l" d="M323.9 356.9 L323.9 367.9"/>
<path class="l" d="M326.4 355.4 L326.4 366.4"/>
<path class="w" d="M298.4 381.3 L329.8 363.8 L331.3 363.8 L331.3 372.3 L304.4 388.3 L302.9 390.3 L298.4 389.8Z"/>
<path class="m" d="M298.4 381.3 L298.4 389.8"/>
<path class="l" d="M298.4 381.3 L303.4 378.8 L329.8 364.3"/>
<path class="l" d="M298.4 389.8 L302.9 390.3 L303.9 385.3"/>
<path class="l" d="M299.9 386.8 L330.8 369.8"/>
<path class="m" d="M329.8 363.8 L331.3 363.8 L331.3 372.3"/>
<path class="l" d="M331.3 372.3 L325.8 375.8 L304.4 388.3"/>
<path class="l" d="M303.9 390.3 L303.9 398.8"/>
<path class="l" d="M304.9 392.3 L321.9 383.3"/>
<path class="l" d="M305.4 395.8 L320.4 387.8"/>
<path class="m" d="M315.4 386.3 C315.8 385.9 316.9 384.4 317.9 383.9 C318.9 383.5 320.8 383.6 321.4 383.5"/>
<path class="l" d="M320.9 378.3 L320.9 389.3"/>
<path class="l" d="M323.9 376.8 L323.9 387.8"/>
<path class="l" d="M326.4 375.3 L326.4 386.3"/>
<path class="w" d="M298.4 401.3 L329.8 383.8 L331.3 383.8 L331.3 392.3 L304.4 408.3 L302.9 410.3 L298.4 409.8Z"/>
<path class="m" d="M298.4 401.3 L298.4 409.8"/>
<path class="l" d="M298.4 401.3 L303.4 398.8 L329.8 384.3"/>
<path class="l" d="M298.4 409.8 L302.9 410.3 L303.9 405.3"/>
<path class="l" d="M299.9 406.8 L330.8 389.8"/>
<path class="m" d="M329.8 383.8 L331.3 383.8 L331.3 392.3"/>
<path class="l" d="M331.3 392.3 L325.8 395.8 L304.4 408.3"/>
<path class="l" d="M303.9 410.3 L303.9 418.8"/>
<path class="l" d="M304.9 412.3 L321.9 403.3"/>
<path class="l" d="M305.4 415.8 L320.4 407.8"/>
<path class="m" d="M315.4 406.3 C315.8 405.9 316.9 404.4 317.9 403.9 C318.9 403.4 320.8 403.6 321.4 403.5"/>
<path class="l" d="M320.9 398.3 L320.9 409.3"/>
<path class="l" d="M323.9 396.8 L323.9 407.8"/>
<path class="l" d="M326.4 395.3 L326.4 406.3"/>
<path class="w" d="M298.4 421.2 L329.8 403.8 L331.3 403.8 L331.3 412.2 L304.4 428.2 L302.9 430.2 L298.4 429.8Z"/>
<path class="m" d="M298.4 421.2 L298.4 429.8"/>
<path class="l" d="M298.4 421.2 L303.4 418.8 L329.8 404.2"/>
<path class="l" d="M298.4 429.8 L302.9 430.2 L303.9 425.2"/>
<path class="l" d="M299.9 426.8 L330.8 409.8"/>
<path class="m" d="M329.8 403.8 L331.3 403.8 L331.3 412.2"/>
<path class="l" d="M331.3 412.2 L325.8 415.8 L304.4 428.2"/>
<path class="l" d="M303.9 430.2 L303.9 438.8"/>
<path class="l" d="M304.9 432.2 L321.9 423.2"/>
<path class="l" d="M305.4 435.8 L320.4 427.8"/>
<path class="m" d="M315.4 426.2 C315.8 425.9 316.9 424.3 317.9 423.9 C318.9 423.4 320.8 423.5 321.4 423.4"/>
<path class="l" d="M320.9 418.2 L320.9 429.2"/>
<path class="l" d="M323.9 416.8 L323.9 427.8"/>
<path class="l" d="M326.4 415.2 L326.4 426.2"/>
<path class="w" d="M298.4 441.2 L329.8 423.7 L331.3 423.7 L331.3 432.2 L304.4 448.2 L302.9 450.2 L298.4 449.7Z"/>
<path class="m" d="M298.4 441.2 L298.4 449.7"/>
<path class="l" d="M298.4 441.2 L303.4 438.7 L329.8 424.2"/>
<path class="l" d="M298.4 449.7 L302.9 450.2 L303.9 445.2"/>
<path class="l" d="M299.9 446.7 L330.8 429.7"/>
<path class="m" d="M329.8 423.7 L331.3 423.7 L331.3 432.2"/>
<path class="l" d="M331.3 432.2 L325.8 435.7 L304.4 448.2"/>
<path class="l" d="M303.9 450.2 L303.9 458.7"/>
<path class="l" d="M304.9 452.2 L321.9 443.2"/>
<path class="l" d="M305.4 455.7 L320.4 447.7"/>
<path class="m" d="M315.4 446.2 C315.8 445.8 316.9 444.3 317.9 443.8 C318.9 443.3 320.8 443.5 321.4 443.4"/>
<path class="l" d="M320.9 438.2 L320.9 449.2"/>
<path class="l" d="M323.9 436.7 L323.9 447.7"/>
<path class="l" d="M326.4 435.2 L326.4 446.2"/>
<path class="w" d="M298.4 461.1 L329.8 443.6 L331.3 443.6 L331.3 452.1 L304.4 468.1 L302.9 470.1 L298.4 469.6Z"/>
<path class="m" d="M298.4 461.1 L298.4 469.6"/>
<path class="l" d="M298.4 461.1 L303.4 458.6 L329.8 444.1"/>
<path class="l" d="M298.4 469.6 L302.9 470.1 L303.9 465.1"/>
<path class="l" d="M299.9 466.6 L330.8 449.6"/>
<path class="m" d="M329.8 443.6 L331.3 443.6 L331.3 452.1"/>
<path class="l" d="M331.3 452.1 L325.8 455.6 L304.4 468.1"/>
<path class="l" d="M303.9 470.1 L303.9 478.6"/>
<path class="l" d="M304.9 472.1 L321.9 463.1"/>
<path class="l" d="M305.4 475.6 L320.4 467.6"/>
<path class="m" d="M315.4 466.1 C315.8 465.8 316.9 464.2 317.9 463.8 C318.9 463.3 320.8 463.4 321.4 463.3"/>
<path class="l" d="M320.9 458.1 L320.9 469.1"/>
<path class="l" d="M323.9 456.6 L323.9 467.6"/>
<path class="l" d="M326.4 455.1 L326.4 466.1"/>
<path class="w" d="M298.4 481.1 L329.8 463.6 L331.3 463.6 L331.3 472.1 L304.4 488.1 L302.9 490.1 L298.4 489.6Z"/>
<path class="m" d="M298.4 481.1 L298.4 489.6"/>
<path class="l" d="M298.4 481.1 L303.4 478.6 L329.8 464.1"/>
<path class="l" d="M298.4 489.6 L302.9 490.1 L303.9 485.1"/>
<path class="l" d="M299.9 486.6 L330.8 469.6"/>
<path class="m" d="M329.8 463.6 L331.3 463.6 L331.3 472.1"/>
<path class="l" d="M331.3 472.1 L325.8 475.6 L304.4 488.1"/>
<path class="l" d="M303.9 490.1 L303.9 498.6"/>
<path class="l" d="M304.9 492.1 L321.9 483.1"/>
<path class="l" d="M305.4 495.6 L320.4 487.6"/>
<path class="m" d="M315.4 486.1 C315.8 485.7 316.9 484.2 317.9 483.7 C318.9 483.2 320.8 483.4 321.4 483.3"/>
<path class="l" d="M320.9 478.1 L320.9 489.1"/>
<path class="l" d="M323.9 476.6 L323.9 487.6"/>
<path class="l" d="M326.4 475.1 L326.4 486.1"/>
<path class="w" d="M298.4 501 L329.8 483.5 L331.3 483.5 L331.3 492 L304.4 508 L302.9 510 L298.4 509.5Z"/>
<path class="m" d="M298.4 501 L298.4 509.5"/>
<path class="l" d="M298.4 501 L303.4 498.5 L329.8 484"/>
<path class="l" d="M298.4 509.5 L302.9 510 L303.9 505"/>
<path class="l" d="M299.9 506.5 L330.8 489.5"/>
<path class="m" d="M329.8 483.5 L331.3 483.5 L331.3 492"/>
<path class="l" d="M331.3 492 L325.8 495.5 L304.4 508"/>
<path class="l" d="M303.9 510 L303.9 518.5"/>
<path class="l" d="M304.9 512 L321.9 503"/>
<path class="l" d="M305.4 515.5 L320.4 507.5"/>
<path class="m" d="M315.4 506 C315.8 505.6 316.9 504.1 317.9 503.6 C318.9 503.2 320.8 503.3 321.4 503.2"/>
<path class="l" d="M320.9 498 L320.9 509"/>
<path class="l" d="M323.9 496.5 L323.9 507.5"/>
<path class="l" d="M326.4 495 L326.4 506"/>
<path class="w" d="M298.4 521 L329.8 503.5 L331.3 503.5 L331.3 512 L304.4 528 L302.9 530 L298.4 529.5Z"/>
<path class="m" d="M298.4 521 L298.4 529.5"/>
<path class="l" d="M298.4 521 L303.4 518.5 L329.8 504"/>
<path class="l" d="M298.4 529.5 L302.9 530 L303.9 525"/>
<path class="l" d="M299.9 526.5 L330.8 509.5"/>
<path class="m" d="M329.8 503.5 L331.3 503.5 L331.3 512"/>
<path class="l" d="M331.3 512 L325.8 515.5 L304.4 528"/>
<path class="l" d="M303.9 530 L303.9 538.5"/>
<path class="l" d="M304.9 532 L321.9 523"/>
<path class="l" d="M305.4 535.5 L320.4 527.5"/>
<path class="m" d="M315.4 526 C315.8 525.6 316.9 524.1 317.9 523.6 C318.9 523.1 320.8 523.3 321.4 523.2"/>
<path class="l" d="M320.9 518 L320.9 529"/>
<path class="l" d="M323.9 516.5 L323.9 527.5"/>
<path class="l" d="M326.4 515 L326.4 526"/>
<ellipse class="l" cx="295.3" cy="407.2" rx="6.2" ry="8.6" transform="rotate(20 295.3 407.2)" fill="#fff"/>
<ellipse class="m" cx="296.8" cy="408" rx="4.4" ry="6.2" transform="rotate(20 296.8 408)"/>
<path class="l" d="M301.9 537.9 L330.9 522.9"/>
<path class="l" d="M302.9 541.9 L327.9 528.9"/>
<path class="m" d="M303.9 532.9 L303.9 537.9"/>
<path class="d2" d="M336.8 420.1 L336.8 511.9"/>
<path class="d2" d="M344.3 470 L344.3 501.5"/>
<path class="l" d="M338.8 504.5 L344.3 501.5 L347.3 504.5 L347.3 516.9"/>
<path class="l" d="M338.8 504.5 L341.8 508.4 L347.3 505"/>
<path class="l" d="M341.8 508.4 L341.8 512.9 L336.8 511.9"/>
<path class="d2" d="M347.3 516.9 C347 518.3 346.1 524.1 344.8 526.9 C343.6 529.7 340.1 535.5 337.8 537.9 C335.6 540.3 331.6 542.7 327.9 544.9 C324.1 547.1 312.3 553.1 309.9 554.4"/>
<path class="l" d="M309.9 554.4 L309.9 558.8 L299.9 564.8"/>
<path class="l" d="M341.8 512.9 C341.6 513.9 341.1 517.9 340.3 519.9 C339.5 521.9 337.1 526.2 335.8 527.9 C334.6 529.6 332.7 531.3 330.9 532.9 C329 534.5 324.9 537.8 321.9 539.9 C318.8 541.9 309.8 547.2 307.9 548.4"/>
<path class="l" d="M307.9 548.4 L307.4 549.9 L309.4 550.9 L309.4 554.4"/>
<path class="l" d="M336.8 511.9 C336.8 512.8 337.8 515.3 336.3 516.9 C334.8 518.6 329.3 521.1 327.9 521.9"/>
<path class="l" d="M327.9 521.9 L301.9 537.9"/>
<path class="l" d="M332.7 528.9 L332.7 537.9"/>
<path class="l" d="M335.3 528.9 L335.3 537.9"/>
<path class="l" d="M337.3 528.9 L337.3 537.9"/>
<path class="l" d="M332.4 529.4 L334.3 528.4 L337.3 528.9"/>
<path class="l" d="M332.9 536.9 L335.3 538.4 L337.3 537.4"/>
<path class="l" d="M316.4 536.9 L321.9 540.9"/>
<path class="d2" d="M294.9 559.8 L307.9 553.4"/>
<ellipse class="l" cx="294.4" cy="541.9" rx="6.2" ry="8.8" transform="rotate(25 294.4 541.9)" fill="#fff"/>
<ellipse class="m" cx="296.4" cy="542.7" rx="4.3" ry="6.6" transform="rotate(25 296.4 542.7)"/>
<path class="l" d="M285.4 410.1 L285.4 525.9"/>
<path class="l" d="M293.4 450.1 L293.4 531.9"/>
<path class="d2" d="M269 514.4 L291.9 529.9"/>
<path class="w" d="M235 457.4 L266.4 439.9 L267.9 439.9 L267.9 448.4 L241 464.4 L239.5 466.4 L235 465.9Z"/>
<path class="m" d="M235 457.4 L235 465.9"/>
<path class="l" d="M235 457.4 L240 454.9 L266.4 440.4"/>
<path class="l" d="M235 465.9 L239.5 466.4 L240.5 461.4"/>
<path class="l" d="M236.5 462.9 L267.4 445.9"/>
<path class="m" d="M266.4 439.9 L267.9 439.9 L267.9 448.4"/>
<path class="l" d="M267.9 448.4 L262.4 451.9 L241 464.4"/>
<path class="l" d="M240.5 466.4 L240.5 474.9"/>
<path class="l" d="M241.5 468.4 L258.5 459.4"/>
<path class="l" d="M242 471.9 L257 463.9"/>
<path class="m" d="M252 462.4 C252.4 462 253.5 460.5 254.5 460 C255.5 459.5 257.4 459.7 258 459.6"/>
<path class="l" d="M257.5 454.4 L257.5 465.4"/>
<path class="l" d="M260.5 452.9 L260.5 463.9"/>
<path class="l" d="M263 451.4 L263 462.4"/>
<path class="w" d="M235 477.3 L266.4 459.8 L267.9 459.8 L267.9 468.3 L241 484.3 L239.5 486.3 L235 485.8Z"/>
<path class="m" d="M235 477.3 L235 485.8"/>
<path class="l" d="M235 477.3 L240 474.8 L266.4 460.3"/>
<path class="l" d="M235 485.8 L239.5 486.3 L240.5 481.3"/>
<path class="l" d="M236.5 482.8 L267.4 465.8"/>
<path class="m" d="M266.4 459.8 L267.9 459.8 L267.9 468.3"/>
<path class="l" d="M267.9 468.3 L262.4 471.8 L241 484.3"/>
<path class="l" d="M240.5 486.3 L240.5 494.8"/>
<path class="l" d="M241.5 488.3 L258.5 479.3"/>
<path class="l" d="M242 491.8 L257 483.8"/>
<path class="m" d="M252 482.3 C252.4 481.9 253.5 480.4 254.5 479.9 C255.5 479.5 257.4 479.6 258 479.5"/>
<path class="l" d="M257.5 474.3 L257.5 485.3"/>
<path class="l" d="M260.5 472.8 L260.5 483.8"/>
<path class="l" d="M263 471.3 L263 482.3"/>
<path class="w" d="M235 497.3 L266.4 479.8 L267.9 479.8 L267.9 488.3 L241 504.3 L239.5 506.3 L235 505.8Z"/>
<path class="m" d="M235 497.3 L235 505.8"/>
<path class="l" d="M235 497.3 L240 494.8 L266.4 480.3"/>
<path class="l" d="M235 505.8 L239.5 506.3 L240.5 501.3"/>
<path class="l" d="M236.5 502.8 L267.4 485.8"/>
<path class="m" d="M266.4 479.8 L267.9 479.8 L267.9 488.3"/>
<path class="l" d="M267.9 488.3 L262.4 491.8 L241 504.3"/>
<path class="l" d="M240.5 506.3 L240.5 514.8"/>
<path class="l" d="M241.5 508.3 L258.5 499.3"/>
<path class="l" d="M242 511.8 L257 503.8"/>
<path class="m" d="M252 502.3 C252.4 501.9 253.5 500.4 254.5 499.9 C255.5 499.4 257.4 499.6 258 499.5"/>
<path class="l" d="M257.5 494.3 L257.5 505.3"/>
<path class="l" d="M260.5 492.8 L260.5 503.8"/>
<path class="l" d="M263 491.3 L263 502.3"/>
<path class="w" d="M235 517.2 L266.4 499.8 L267.9 499.8 L267.9 508.2 L241 524.2 L239.5 526.2 L235 525.8Z"/>
<path class="m" d="M235 517.2 L235 525.8"/>
<path class="l" d="M235 517.2 L240 514.8 L266.4 500.2"/>
<path class="l" d="M235 525.8 L239.5 526.2 L240.5 521.2"/>
<path class="l" d="M236.5 522.8 L267.4 505.8"/>
<path class="m" d="M266.4 499.8 L267.9 499.8 L267.9 508.2"/>
<path class="l" d="M267.9 508.2 L262.4 511.8 L241 524.2"/>
<path class="l" d="M240.5 526.2 L240.5 534.8"/>
<path class="l" d="M241.5 528.2 L258.5 519.2"/>
<path class="l" d="M242 531.8 L257 523.8"/>
<path class="m" d="M252 522.2 C252.4 521.9 253.5 520.3 254.5 519.9 C255.5 519.4 257.4 519.5 258 519.5"/>
<path class="l" d="M257.5 514.2 L257.5 525.2"/>
<path class="l" d="M260.5 512.8 L260.5 523.8"/>
<path class="l" d="M263 511.2 L263 522.2"/>
<path class="l" d="M238.9 441.9 L264.9 429"/>
<path class="m" d="M238.9 441.9 L238.9 453.9"/>
<path class="l" d="M256.9 433 L256.9 439.9"/>
<path class="l" d="M259.4 432.5 L259.4 440.9"/>
<path class="l" d="M260.9 433.5 L260.9 439.9"/>
<path class="l" d="M271.9 427 L271.9 494.8 L260.9 500.8"/>
<path class="w" d="M229.1 467.8 L232.4 466.3 L245.9 467.5 L245.9 486.5 L241.7 489.2 L231.8 489.2 L231.5 488.3 L229.1 487.7Z"/>
<path class="m" d="M229.1 467.8 L229.1 487.7 L231.5 488.3"/>
<path class="m" d="M245.9 467.5 L245.9 486.5"/>
<path class="l" d="M229.1 467.8 L232.4 466.3"/>
<path class="l" d="M230.3 469.9 L236.3 470.5 L241.7 470.8 L245.9 467.5"/>
<path class="m" d="M231.8 470.5 L231.8 489.2"/>
<path class="l" d="M237.8 470.8 L237.8 489.2"/>
<path class="d2" d="M242 470.2 L242 488.4"/>
<path class="l" d="M231.8 489.2 L241.7 489.2 L245.9 486.5"/>
<path class="l" d="M232.4 466.3 L245.9 467.5"/>
<path class="l" d="M224.9 452.8 L245.9 467.5"/>
<path class="w" d="M264.9 564.9 L282.8 554.4 L310.3 571.4 L311.8 573.9 L311.3 578.9 L296.8 587.8 L294.8 587.8 L290.8 590 L287.3 587.8 L285.8 582.8 L274.8 576.9 L274.8 573.9Z"/>
<path class="w" d="M243.4 528.5 L245.9 526.5 L282.8 551.9 L282.8 554.4 L271.8 554.9 L271.8 544.9Z"/>
<path class="l" d="M245.9 526.5 L310.3 571.4"/>
<path class="m" d="M243.4 529.5 L279.8 546.4"/>
<path class="l" d="M243.9 527.8 L242.9 530.9 L242.9 538.9 L246.9 543.4"/>
<path class="l" d="M246.9 543.4 L242.9 543.4"/>
<path class="l" d="M271.8 544.9 L271.8 553.9 L275.8 555.4 L280.8 554.9 L285.8 549.9 L285.8 546.9"/>
<path class="l" d="M279.8 546.4 L279.8 554.9"/>
<path class="l" d="M282.8 554.4 L309.8 571.4"/>
<path class="l" d="M310.3 571.4 L311.8 573.9 L311.3 578.9 L296.8 587.8"/>
<path class="l" d="M310.3 571.4 L295.8 579.9 L296.8 587.8"/>
<path class="d" d="M296.8 581.8 L309.8 574.4"/>
<path class="d" d="M298.8 584.8 L310.8 577.4"/>
<path class="l" d="M294.8 580.8 C294.8 581.8 295.3 586.6 294.8 587.8 C294.3 589.1 291.8 590 290.8 590 C289.8 590 288 588.8 287.3 587.8 C286.7 586.9 286 583.5 285.8 582.8"/>
<path class="l" d="M285.8 582.8 L274.8 576.9 L274.8 573.9 L264.9 564.9"/>
<path class="l" d="M264.9 564.9 L294.8 580.8"/>
<path class="l" d="M263.9 563.9 L264.9 560.9 L270.8 563.9"/>
<path class="l" d="M327 544.4 L309.8 553.9 L309.8 558.9 L299.8 564.9"/>
<path class="d2" d="M294.8 560.9 L307.8 553.9"/>
</g>
<g id="housing">
<path class="l" d="M763.7 235.8 L763.7 198"/>
<path class="l" d="M763.7 198 C763.9 196.8 764.1 192.9 764.6 190.5 C765.2 188.1 765.9 185.9 767.2 183.7 C768.5 181.4 770.2 179.3 772.5 177.2 C774.8 175 779.4 171.9 780.8 170.8"/>
<path class="l" d="M780.8 170.8 L833.7 145.9"/>
<path class="l" d="M833.7 145.9 C835.2 145.2 840 143 842.8 142.1 C845.6 141.2 848 140.7 850.4 140.6 C852.7 140.5 856 141.2 857.2 141.3"/>
<path class="l" d="M857.2 141.3 L940 183.7"/>
<path class="l" d="M766.8 255.5 L766.9 211.6"/>
<path class="l" d="M766.9 211.6 C767.2 209.6 767.8 203.1 768.7 199.5 C769.7 196 771 193 772.5 190.5 C774 187.9 775.1 186.6 777.8 184.1 C780.4 181.6 786.6 176.8 788.4 175.4"/>
<path class="l" d="M788.4 175.4 L836.7 146.3"/>
<path class="d" d="M774 178.1 L830.7 147.8"/>
<path class="d" d="M765.1 214.7 C765.1 212.4 764.9 205.3 765.4 201.1 C765.9 196.8 766.5 192.5 768 189 C769.4 185.4 773 181.4 774 179.9"/>
<path class="m" d="M764.2 191.8 L764.2 257.1"/>
<path class="l" d="M764.2 257.1 C763.9 258.7 763.9 262.6 762.5 267.1 C761.1 271.6 758.9 278.8 755.8 283.8 C752.8 288.9 748 293.9 744.1 297.2 C740.2 300.6 734.4 302.8 732.4 303.9"/>
<path class="l" d="M732.4 303.9 L692.2 324.9"/>
<path class="l" d="M692.9 325.5 C690.9 326.5 684.8 329.4 680.8 331.6 C676.8 333.7 672.1 335.9 668.7 338.4 C665.3 340.9 662.5 343.7 660.4 346.7 C658.3 349.7 657.1 353.4 656.3 356.5 C655.5 359.7 655.7 364.1 655.6 365.6"/>
<path class="l" d="M721.6 310.4 L692.9 327.8"/>
<path class="l" d="M692.9 327.8 C690.9 329.1 684.6 332.6 680.8 335.4 C677 338.1 673.3 340.9 670.2 344.4 C667.2 347.9 664.6 352 662.7 356.5 C660.8 361.1 659.5 369.1 658.9 371.6"/>
<path class="d" d="M718.6 310.4 L682.3 332.3"/>
<path class="l" d="M658.9 371.6 L658.9 379.2 L662.7 384.5"/>
<path class="l" d="M836.7 146.6 L904.8 182.2"/>
<path class="l" d="M802 165.5 L871.5 201.8"/>
<path class="l" d="M766.5 224.5 L839 269.1"/>
<path class="l" d="M766.5 245.6 L839.8 290.2"/>
<path class="l" d="M733 303.6 L806.3 339.9"/>
<path class="l" d="M692.9 326.3 L762.4 364.1"/>
<path class="l" d="M662.7 384.5 L732.2 431.3"/>
<path class="l" d="M655.6 356 L655.6 486 L657.5 492"/>
<path class="l" d="M658.9 373 L659.2 600.5"/>
<path class="m" d="M663 384.5 L663 424.5"/>
<path class="l" d="M658.7 540 C658.3 542.5 657 549.7 656.5 555 C656 560.3 655.8 567.2 655.7 572 C655.6 576.8 655.5 580.7 655.9 584 C656.3 587.3 657.4 589.2 658 592 C658.6 594.8 659.2 599.1 659.5 600.5"/>
<path class="l" d="M659.2 600.5 C659.5 602 659.8 606.5 661 609.5 C662.2 612.5 664.7 616.5 666.3 618.6 C667.9 620.8 670 621.8 670.8 622.4"/>
<path class="l" d="M666.3 618.6 L747.2 671.5"/>
<path class="l" d="M659.5 600.5 L732.8 644.3"/>
<path class="l" d="M914.4 178 L870.9 201.5"/>
<path class="l" d="M870.9 201.5 C870.2 202 867.7 203.4 866.4 204.5 C865.1 205.5 863.8 206.7 863.2 207.9 C862.5 209.2 862.8 211.4 862.8 212.1"/>
<path class="l" d="M914.4 191 L865.4 216.4"/>
<path class="m" d="M864.5 212.9 L864.5 226.9 L865.4 228.9"/>
<path class="d2" d="M914.4 178.5 L914.4 191"/>
<path class="l" d="M919.8 178.5 L919.8 191.8"/>
<path class="l" d="M922.3 178.5 L922.3 191.8"/>
<path class="l" d="M925.3 178.5 L925.3 191.8"/>
<path class="l" d="M913.9 191.5 L919.8 191.8 L925.3 192"/>
<path class="l" d="M925.3 179.5 C926.6 179.8 930.4 180 932.8 181 C935.2 182 937.6 183.7 939.8 185.5 C942 187.3 944.3 189.6 945.8 192 C947.3 194.4 948.2 198 948.8 200 C949.4 202 949.2 203.3 949.3 204"/>
<path class="l" d="M949.3 204 L939.8 209.4 L933.8 209.9"/>
<path class="l" d="M925.3 192 C926.4 192.5 929.8 193.5 931.8 195 C933.8 196.5 936 198.5 937.3 201 C938.6 203.4 939.4 208 939.8 209.4"/>
<path class="l" d="M906.9 195.5 L933.8 209.9"/>
<path class="m" d="M933.3 209.9 L933.3 274.3 L937.3 277.3"/>
<path class="l" d="M943.3 208.9 L943.3 266.8"/>
<path class="l" d="M934.3 270.3 L942.8 266.6 L949.8 271.8 L949.8 287.8"/>
<path class="l" d="M937.3 277.3 L949.3 272.3"/>
<path class="l" d="M939.8 279.8 L939.8 287.8"/>
<path class="l" d="M938.3 273.8 L945.8 270.6"/>
<path class="l" d="M934.8 271.3 L938.8 275.8"/>
<path class="l" d="M865.4 216.4 L871.9 224.4 L888.4 215.4 L882.9 208.4"/>
<path class="l" d="M871.9 224.4 L872.4 215.1 L882.9 209.1"/>
<path class="l" d="M870.9 213.9 L874.4 217.9"/>
<path class="l" d="M882.9 208.4 L882.9 211.9 L885.9 215.4"/>
<path class="d" d="M895.4 200.5 L921.3 216.1"/>
<path class="l" d="M895.9 201.5 L919.8 215.7"/>
<path class="l" d="M921.3 216.1 L870.4 241.4"/>
<path class="l" d="M922 218.4 L868.4 249.4"/>
<path class="l" d="M921.3 216.1 L922 218.4"/>
<path class="l" d="M870.4 241.4 C870.2 242 869.3 243.5 868.9 244.9 C868.6 246.2 868.5 248.6 868.4 249.4"/>
<path class="l" d="M859.5 234.4 L870.4 241.4"/>
<path class="l" d="M857 240.9 L868.9 245.4"/>
<path class="l" d="M855 244.9 L865 251.4 L868.4 249.4"/>
<path class="l" d="M859.5 234.4 L855 244.9"/>
<path class="l" d="M865.4 228.9 L859.5 234.4"/>
<path class="l" d="M904.9 229.4 L919.8 239.9"/>
<path class="l" d="M897.4 233.4 C897.8 233.6 899 234.8 899.9 234.7 C900.7 234.6 901.5 233.8 902.4 232.9 C903.2 232 904.5 230 904.9 229.4"/>
<path class="l" d="M862.8 212.1 C861.5 214.1 857.4 220 855 223.9 C852.5 227.9 850 231.6 848 235.9 C846 240.2 844.2 245.4 843 249.9 C841.7 254.4 841.1 257.8 840.5 262.8 C839.9 267.8 839.7 275.6 839.5 279.8 C839.3 284 839.5 286.5 839.5 287.8"/>
<path class="d2" d="M865 227.9 C864 229.2 860.8 232.9 859 235.9 C857.1 238.9 855.3 242.2 854 245.9 C852.6 249.5 851.6 253.9 851 257.8 C850.3 261.8 850.1 264.8 850 269.8 C849.9 274.8 850.4 284.8 850.5 287.8"/>
<path class="l" d="M917.3 239.9 L865 268.8"/>
<path class="l" d="M921.6 243.9 L868.9 272.3"/>
<path class="l" d="M921.6 253.4 L868.9 282.3"/>
<path class="l" d="M921.6 243.4 L921.6 269.8"/>
<path class="l" d="M917.3 239.9 L921.6 243.4"/>
<path class="l" d="M865 268.8 C865.4 269.3 867.3 270.7 867.9 271.8 C868.6 273 868.9 274.3 868.9 275.8 C869 277.3 869.1 279.3 868.4 280.8 C867.8 282.3 865.5 284.1 865 284.8"/>
<path class="l" d="M850.5 259.8 L865 268.8"/>
<path class="l" d="M855 277.8 L865 284.8"/>
<path class="l" d="M855 244.9 L855 257.8 L850.5 259.8"/>
<path class="l" d="M856.5 254.4 C856.8 254.8 858.4 255.9 858.5 256.8 C858.5 257.8 857.5 259.4 857 259.8 C856.4 260.3 855.3 259.4 855 259.3"/>
<path class="m" d="M855 277.8 L855 287.8"/>
<path class="m" d="M852 277.3 L852 287.8"/>
<path class="l" d="M895.9 265.8 L904.9 262.8 L921.3 253.4"/>
<path class="l" d="M904.9 262.8 C905.7 263.5 908 265.8 909.9 266.8 C911.7 267.8 913.9 268.3 915.8 268.8 C917.8 269.3 920.4 269.7 921.3 269.8"/>
<path class="l" d="M917.3 271.3 L921.8 275.8 L921.8 287.8"/>
<path class="l" d="M917.3 271.3 L891.9 285.8"/>
<path class="d2" d="M840.8 274 C840.8 275 841 277.3 841 280 C840.9 282.7 840.8 286.2 840.5 290 C840.1 293.8 839.7 299 839 303 C838.2 306.9 837.3 310.3 836 313.9 C834.6 317.6 832.8 321.6 831 324.9 C829.1 328.2 826.8 331.4 825 333.9 C823.2 336.4 820.8 338.9 820 339.9"/>
<path class="d2" d="M849.9 293 C849.7 294.6 849.3 299.6 848.4 303 C847.6 306.3 846.4 309.6 845 312.9 C843.5 316.3 842.1 319.6 840 322.9 C837.8 326.2 834.6 329.2 832 332.9 C829.3 336.6 825.3 343.3 824 345.4"/>
<path class="l" d="M820 346.1 L824 345.1"/>
<path class="l" d="M824 345.4 L850.9 359.8"/>
<path class="l" d="M823 346.7 L835 353.4"/>
<path class="l" d="M820 356.8 L835 364.8 L845 360.8"/>
<path class="l" d="M835 364.8 L836.5 368.8 L845 364.8"/>
<path class="d2" d="M836.5 368.8 L836.5 387.8"/>
<path class="l" d="M845.4 361.3 L845.4 387.8"/>
<path class="m" d="M850.9 273 L850.9 295"/>
<path class="m" d="M851.9 309.4 L851.9 324.9"/>
<path class="l" d="M854.9 310.9 L854.9 323.9"/>
<path class="l" d="M857.4 310.9 L857.4 323.9"/>
<path class="l" d="M855.4 283 C855.6 283.7 856 286.3 856.4 287.5 C856.9 288.6 858 289.2 858.1 290 C858.2 290.8 857.1 291.8 856.9 292.2"/>
<path class="l" d="M856.9 292.2 L849.9 295.5"/>
<path class="l" d="M856.4 319.9 C856.8 320.3 858.3 321.6 858.4 322.4 C858.6 323.2 857.9 324.6 857.4 324.9 C856.9 325.2 855.8 324.5 855.4 324.4"/>
<path class="l" d="M845.9 308.9 L851.9 309.9"/>
<path class="d2" d="M843 316.9 L851.9 324.9 L855.4 325.4"/>
<path class="d2" d="M855.4 325.4 L865.9 332.9"/>
<path class="l" d="M851.9 295 L865.9 301.5"/>
<path class="l" d="M865.9 301.5 C866.3 302 867.9 303 868.4 304.5 C868.9 305.9 868.9 308.4 868.9 309.9 C868.9 311.5 868.5 313.3 868.4 313.9"/>
<path class="l" d="M868.4 313.9 L864.9 317.4 L857.9 313.4"/>
<path class="l" d="M865.9 301.5 L921.8 273.5"/>
<path class="l" d="M868.9 306.4 L921.8 280"/>
<path class="l" d="M868.4 313.9 L921.8 285.5"/>
<path class="l" d="M921.8 274 L921.8 285.5"/>
<path class="l" d="M895.8 299.5 C896.3 299.6 897.8 300.5 898.8 300.5 C899.9 300.4 901.3 299.9 902.3 299 C903.3 298 904.4 295.6 904.8 295"/>
<path class="l" d="M904.8 295 L921.8 285.5"/>
<path class="m" d="M904.8 295 L939.8 314.4"/>
<path class="l" d="M905.8 297.5 L918.8 304.8"/>
<ellipse class="l" cx="861.4" cy="347.7" rx="10.4" ry="14.2" transform="rotate(20 861.4 347.7)"/>
<ellipse class="m" cx="863.9" cy="349.1" rx="7.3" ry="10.2" transform="rotate(20 863.9 349.1)"/>
<path class="l" d="M867.9 332.9 L918.8 304.5"/>
<path class="l" d="M871.4 337.9 L921 309.9"/>
<path class="l" d="M872.9 345.4 L921.8 318.4"/>
<path class="l" d="M918.8 304.5 L921.8 308.9 L921.8 318.4"/>
<path class="l" d="M894.9 332.4 C895.4 332.6 897.3 333.5 898.3 333.4 C899.4 333.3 900.4 332.8 901.3 331.9 C902.3 331 903.4 328.6 903.8 327.9"/>
<path class="l" d="M903.8 327.9 L921.8 318.4"/>
<path class="l" d="M903.8 327.9 L918.3 337.9"/>
<path class="l" d="M918.3 337.9 C918.6 338.4 919.2 339.9 919.8 340.9 C920.4 341.9 921.5 343.4 921.8 343.9"/>
<path class="l" d="M921.8 343.9 L952 358.8"/>
<path class="l" d="M921 309.9 L952 326.9"/>
<path class="l" d="M855.9 361.8 L863.9 365.8"/>
<path class="l" d="M863.9 365.8 C864.6 366.4 867.1 367.8 867.9 369.3 C868.7 370.8 868.8 372.9 868.9 374.8 C869 376.7 868.5 379.8 868.4 380.8"/>
<path class="l" d="M868.4 380.8 L866.9 382.8 L857.4 378.3"/>
<path class="l" d="M863.9 365.8 L915.8 338.9"/>
<path class="l" d="M868.9 371.8 L921 343.9"/>
<path class="l" d="M868.4 380.8 L921 351.9"/>
<path class="l" d="M921.6 343.9 L921.6 369.8"/>
<path class="l" d="M915.8 338.9 L921 343.9"/>
<path class="l" d="M895.8 365.8 L904.8 360.8 L921 351.9"/>
<path class="d2" d="M904.8 360.8 L917.8 368.8"/>
<path class="m" d="M897.8 364.8 L905.8 363.3"/>
<path class="l" d="M890.9 387.3 L918.8 371.8 L921.8 375.8 L921.8 387.8"/>
<path class="m" d="M915.8 367.8 L921.6 366.8"/>
<path class="m" d="M851.9 374.8 L851.9 387.8"/>
<path class="l" d="M855.4 376.8 L855.4 387.8"/>
<path class="l" d="M851.9 374.8 L857.4 378.3 L857.4 387.8"/>
<path class="l" d="M939.3 279 L939.3 314.4"/>
<path class="l" d="M949.7 279 L949.7 307.9 L941.3 312.9"/>
<path class="l" d="M939.8 352.9 L939.8 382.3"/>
<path class="l" d="M949.7 357.3 L949.7 376.8 L939.8 382.8 L933.8 381.8 L933.8 387.8"/>
<path class="l" d="M945.7 311.1 L966.9 323.4"/>
<path class="l" d="M966.9 323.4 C967.1 323 967.6 321.9 968.4 321.4 C969.1 320.9 970.4 320.5 971.4 320.4 C972.4 320.2 973.2 320.2 974.4 320.7 C975.5 321.2 977.5 322 978.3 323.4 C979.2 324.7 979.2 327.9 979.3 328.8"/>
<path class="l" d="M952 326.8 L969.9 337.3 L979.3 331.8"/>
<path class="l" d="M979.3 328.8 L979.3 363.8"/>
<path class="l" d="M921.5 344 L968.9 367.4 L972.4 367.4 L979.3 363.2"/>
<path class="l" d="M969.4 337.5 L969.4 367.4"/>
<path class="l" d="M971.4 337.5 L971.4 367.4"/>
<path class="l" d="M977.3 333 L977.3 364.5"/>
<path class="l" d="M979.3 329 L979.3 363.2"/>
<path class="l" d="M933.4 387.8 L933.4 419.3"/>
<path class="l" d="M943.4 379.9 L943.4 419.8"/>
<path class="l" d="M921.5 410.9 L1059.7 489.2"/>
<path class="d2" d="M836.5 380 L836.5 487.8"/>
<path class="l" d="M845.7 380 L845.7 449.9"/>
<path class="m" d="M851.7 380 L851.7 425.4"/>
<path class="l" d="M855.4 380 C855.6 381 855.9 384.7 856.4 386 C856.9 387.3 858.3 387.2 858.4 388 C858.6 388.7 857.6 390.1 857.4 390.5"/>
<path class="l" d="M857.4 390.5 L851.9 393 L846.4 397.5"/>
<path class="l" d="M851.9 393 L866.9 400"/>
<path class="l" d="M866.9 400 C867.2 400.5 868.3 401.5 868.7 403 C869.1 404.5 869.2 407.2 869.1 408.9 C869.1 410.7 868.5 412.7 868.4 413.4"/>
<path class="l" d="M868.4 413.4 L865.4 416.4 L846.9 407.4"/>
<path class="l" d="M866.9 400 L910.3 377.5"/>
<path class="l" d="M868.9 405.4 L921.8 379"/>
<path class="l" d="M868.4 413.4 L921.8 384.5"/>
<path class="l" d="M921.8 375 L921.8 384.5"/>
<path class="l" d="M895.3 395.5 C895.9 396.1 897.7 398.5 898.8 399 C900 399.5 901.3 399 902.3 398.5 C903.3 397.9 904.4 396 904.8 395.5"/>
<path class="l" d="M904.8 395.5 L921.8 384.5"/>
<path class="l" d="M904.8 395.5 L919.8 403.5"/>
<path class="l" d="M899.8 398.5 L915.8 401.5"/>
<path class="l" d="M870.4 431.9 L919.3 403.5"/>
<path class="l" d="M877.4 434.4 L920.8 408.9"/>
<path class="l" d="M883.9 438.9 L921.8 417.4"/>
<path class="l" d="M919.3 403.5 L921.8 408.9 L921.8 417.4"/>
<path class="l" d="M851.9 425.4 L867.9 433.4"/>
<path class="l" d="M855.4 409.9 C855.8 410.9 857.2 414.1 857.7 415.9 C858.2 417.8 858.6 419.6 858.4 420.9 C858.3 422.2 857.2 423.4 856.9 423.9"/>
<path class="l" d="M856.9 423.9 L852.9 425.4"/>
<path class="l" d="M895.3 431.4 C895.9 431.6 897.7 432.5 898.8 432.4 C900 432.3 901.3 431.6 902.3 430.9 C903.3 430.1 904.4 428.4 904.8 427.9"/>
<path class="l" d="M904.8 427.9 L921.8 417.4"/>
<path class="l" d="M904.8 427.9 L919.8 436.4"/>
<path class="l" d="M919.8 436.4 C920.1 437.3 921.3 439.6 921.8 441.9 C922.3 444.1 922.4 446.9 922.6 449.9 C922.8 452.9 922.8 458.2 922.8 459.8"/>
<path class="l" d="M899.8 446.9 L918.3 436.9"/>
<path class="l" d="M904.8 451.4 L920.8 441.9"/>
<path class="l" d="M911.8 454.9 L919.8 449.9 L921.8 451.9"/>
<path class="l" d="M933.8 382 L933.8 417.9"/>
<path class="d2" d="M933.8 417.9 L933.8 467.8"/>
<path class="l" d="M943.8 380 L943.8 419.9"/>
<path class="d2" d="M943.8 419.9 L943.8 472.8"/>
<path class="l" d="M933.8 382 L937.8 384 L943.8 380"/>
<path class="l" d="M806.8 339 L761.9 363.9"/>
<path class="l" d="M761.9 363.9 C761.1 364.5 758.2 366.5 756.9 367.7 C755.7 369 754.7 370.3 754.5 371.4 C754.2 372.5 755.3 373.9 755.4 374.4"/>
<path class="l" d="M806.8 350.9 L757.9 377.9"/>
<path class="m" d="M756.9 376.9 L756.9 388.9 L755.9 389.9"/>
<path class="l" d="M806.8 338.7 L806.8 350.4"/>
<path class="l" d="M809.8 338.7 L809.8 350.4"/>
<path class="l" d="M812.8 338.7 L812.8 350.4"/>
<path class="l" d="M815.3 338.7 L815.3 350.4"/>
<path class="l" d="M817.8 338.7 L817.8 350.4"/>
<path class="l" d="M806.8 350.4 L809.8 349.9 L815.3 351.4 L817.8 349.9"/>
<path class="l" d="M806.8 338.6 L817.8 338.6"/>
<path class="l" d="M822.8 345.9 L851.3 359.9"/>
<path class="l" d="M824.8 347.9 L844.8 358.9"/>
<path class="l" d="M807.8 350.9 L820.3 356.9"/>
<path class="l" d="M757.9 377.9 L763.9 385.4"/>
<path class="l" d="M763.9 385.4 L764.4 375.9 L773.9 371.9 L774.4 369.4"/>
<path class="d2" d="M763.9 385.4 L779.9 377.4"/>
<path class="m" d="M774.9 374.4 L779.9 377.4"/>
<path class="l" d="M759.9 377.4 L764.4 375.9"/>
<path class="l" d="M787.4 361.9 L812.3 376.9"/>
<path class="l" d="M788.4 361.4 L812.8 375.9"/>
<path class="l" d="M812.3 376.9 L762.9 402.8"/>
<path class="l" d="M813.3 380.2 L759.9 409.8"/>
<path class="l" d="M812.3 376.9 L813.8 378.9 L813.3 380.4"/>
<path class="l" d="M762.9 402.8 C762.6 403.4 761.6 405.2 761.1 406.3 C760.6 407.5 760.1 409.2 759.9 409.8"/>
<path class="l" d="M759.9 409.8 L755.9 411.8 L753 410.8"/>
<path class="l" d="M751.5 396.3 L762.9 402.8"/>
<path class="l" d="M749 400.8 L760.9 406.8"/>
<path class="l" d="M755.9 389.9 L751.5 396.3 L748.5 401.3"/>
<path class="l" d="M748.5 401.3 C748.7 402.3 749.2 405.2 750 406.8 C750.7 408.4 752.5 410.2 753 410.8"/>
<path class="l" d="M785.9 396.3 C786.4 396.5 787.7 397.2 788.9 397 C790 396.9 791.6 396.4 792.9 395.3 C794.1 394.3 795.8 391.6 796.4 390.9"/>
<path class="l" d="M796.4 390.9 L809.8 399.8"/>
<path class="l" d="M809.8 399.8 C810.3 400.6 811.7 402.3 812.3 404.3 C813 406.3 813.6 410.6 813.8 411.8"/>
<path class="l" d="M808.3 400.6 L764.4 427.3"/>
<path class="l" d="M812.8 406.8 L776.4 427.3"/>
<path class="l" d="M817.8 413.8 L789.9 427.8"/>
<path class="l" d="M813.8 411.8 L818.3 413.8 L818.8 423.8 L814.8 427.3"/>
<path class="d2" d="M755.4 374.4 C754.4 376 751.4 380 749 383.9 C746.6 387.8 743.3 393.2 741 397.8 C738.6 402.5 736.5 406.8 735 411.8 C733.5 416.8 732.5 425.1 732 427.8"/>
<path class="d2" d="M755.9 389.9 C755.2 391 753 394 751.5 396.8 C750 399.7 748.2 403.7 747 406.8 C745.7 410 744.7 412.3 744 415.8 C743.2 419.3 742.7 425.8 742.5 427.8"/>
<path class="m" d="M747 407.8 L748.5 417.8"/>
<path class="l" d="M748.5 417.8 C748.8 417.9 750.3 417.9 750.5 418.3 C750.6 418.7 750.7 419.7 749.5 420.3 C748.2 420.9 744.1 421.5 743 421.8"/>
<path class="l" d="M745 407.8 L748.5 407.8"/>
<path class="l" d="M745 407.8 L742.5 419.8 L745 427.3"/>
<path class="d2" d="M736 407 C735.6 409.2 734.1 415.8 733.5 420 C732.9 424.1 732.6 430 732.5 432"/>
<path class="l" d="M745.4 407 C745 409 743.3 415.2 742.8 419 C742.3 422.8 742.5 428.1 742.5 430"/>
<path class="l" d="M732.5 432.2 L737 432.5 L743 429.5"/>
<path class="l" d="M746.9 410 C747.2 410.9 748.2 414.1 748.7 415.5 C749.2 416.9 749.7 418 749.9 418.5"/>
<path class="l" d="M749.9 418.5 L744 421"/>
<path class="m" d="M661.3 424.8 L733.7 466.1"/>
<path class="m" d="M733.7 466.1 L749.9 472.9"/>
<path class="l" d="M660.5 430.6 L732.5 469.9"/>
<path class="l" d="M732.5 469.9 L736.5 465.9"/>
<path class="l" d="M661.3 424.8 L660.5 430.6"/>
<path class="m" d="M720 422.5 L731 430.5"/>
<path class="l" d="M737 432.5 L756.4 445.4"/>
<path class="l" d="M744 423 L778.9 447.4"/>
<path class="l" d="M744.5 420.5 L761.9 436.1"/>
<path class="d2" d="M732.5 469.9 L732.5 517.8"/>
<path class="m" d="M750.9 447.9 L750.9 480.9 L754.9 481.9"/>
<path class="m" d="M778.9 447.4 L778.9 478.9"/>
<path class="l" d="M750.9 447.9 L756.4 445.4"/>
<path class="l" d="M752.9 451.4 L762.9 452.4 L771.9 452.9 L778.9 447.4"/>
<path class="m" d="M755.4 452.4 L755.4 483.4"/>
<path class="l" d="M765.4 452.9 L765.4 483.4"/>
<path class="d2" d="M772.4 451.9 L772.4 482.1"/>
<path class="l" d="M755.4 483.4 L771.9 483.4 L778.9 478.9"/>
<path class="m" d="M743 470.9 L743 488.8"/>
<path class="m" d="M743 503.8 L743 517.8"/>
<path class="l" d="M746.9 473.9 C747.2 474.9 748 478.1 748.4 479.9 C748.9 481.6 749.8 483.3 749.7 484.4 C749.7 485.4 748.2 486 747.9 486.3"/>
<path class="l" d="M747.9 486.3 L744 488.8"/>
<path class="l" d="M745.9 473.9 L745.9 485.8"/>
<path class="l" d="M758.9 429.5 L764.4 427.3"/>
<path class="l" d="M761.4 435.4 L776.4 427.3"/>
<path class="l" d="M768.4 439.9 L789.9 427.8"/>
<path class="l" d="M818.8 413.8 L818.8 423.8 L814.8 427.3"/>
<path class="l" d="M789.9 428 C790.5 428 792.8 428.8 793.9 428.5 C794.9 428.1 795.8 426.7 796.3 426 C796.9 425.2 797.2 424.3 797.3 424"/>
<path class="d2" d="M797.3 424 L814.8 427.3"/>
<path class="l" d="M797.3 424 L808.8 431.5"/>
<path class="l" d="M779.9 449.4 L808.8 431.5"/>
<path class="l" d="M779.9 456.9 L813.3 438.9"/>
<path class="l" d="M779.4 464.9 L813.8 446.4"/>
<path class="l" d="M808.8 431.5 C809.4 432 811.5 433.5 812.3 435 C813.1 436.4 813.4 438 813.6 439.9 C813.9 441.9 813.8 445.3 813.8 446.4"/>
<path class="m" d="M787.9 460.4 C788.4 460.6 790.3 461.4 791.4 461.4 C792.4 461.4 793.6 461.1 794.4 460.4 C795.1 459.7 795.6 457.9 795.8 457.4"/>
<path class="l" d="M795.8 457.4 L813.8 446.4"/>
<path class="l" d="M795.8 457.4 L810.8 466.9"/>
<path class="l" d="M810.8 466.9 C811.2 467.3 812.4 468.5 812.8 469.4 C813.2 470.3 813.2 471.9 813.3 472.4"/>
<path class="l" d="M794.9 461.9 L813.3 472.4"/>
<path class="l" d="M813.3 472.4 L837.3 488.8"/>
<path class="l" d="M744 488.8 L758.9 496.8"/>
<path class="l" d="M758.9 496.8 C759.2 497.5 760.4 499.3 760.7 500.8 C761.1 502.3 761 504.3 760.9 505.8 C760.8 507.3 760.3 509.1 760.1 509.8"/>
<path class="l" d="M760.1 509.8 L755.9 511.8 L744 503.8"/>
<path class="l" d="M758.9 496.8 L807.8 470.4"/>
<path class="l" d="M760.9 501.3 L813.3 472.9"/>
<path class="l" d="M760.4 509.8 L813.8 480.4"/>
<path class="l" d="M813.3 472.4 L813.8 480.4"/>
<path class="l" d="M788.9 493.8 C789.4 493.9 791.3 494.5 792.4 494.3 C793.4 494.2 794.6 493.6 795.3 492.8 C796.1 492.1 796.6 490.3 796.8 489.8"/>
<path class="l" d="M796.8 489.8 L813.8 480.4"/>
<path class="l" d="M796.8 489.8 L810.8 498.3"/>
<path class="l" d="M810.8 498.3 C811.2 498.9 812.8 500.6 813.3 501.8 C813.8 503.1 813.7 504.3 813.8 505.8 C813.9 507.3 813.8 510 813.8 510.8"/>
<path class="l" d="M809.8 480.9 L832.8 491.3 L837.8 490.8"/>
<path class="l" d="M778.9 517.3 L809.8 498.8"/>
<path class="l" d="M789.9 517.3 L813.8 503.8"/>
<path class="d2" d="M836.3 410 L836.3 488.8"/>
<path class="l" d="M845.7 410 L845.7 443.9"/>
<path class="m" d="M839.3 483.9 C839.3 485 838.9 488.8 839.3 490.8 C839.6 492.8 839.1 493.8 841.3 495.8 C843.4 497.8 850.2 501.7 852 502.8"/>
<path class="d2" d="M732.5 505 L732.5 544.9"/>
<path class="m" d="M727.5 548.4 L731 549.1 L741.5 543.1 L743 542.4"/>
<path class="l" d="M727.5 548.4 L727.5 612.8"/>
<path class="l" d="M738 544.9 L738 612.8"/>
<path class="m" d="M743 505 L743 521"/>
<path class="l" d="M743 521 L758.9 529.5"/>
<path class="b" d="M743 528.2 L760.9 537.1"/>
<path class="l" d="M743 535.9 L761.4 545.9 L763.9 544.9 L764.9 539.9 L761.4 538.9 L761.9 533.9 L758.9 529.5"/>
<path class="l" d="M743 521 L743 542.4"/>
<path class="l" d="M758.9 529.5 L778.9 517.3"/>
<path class="l" d="M761.9 533.9 L789.9 517.3"/>
<path class="l" d="M765.4 539.9 L810.3 512.5"/>
<path class="l" d="M807.8 501 C808.6 501.7 811.4 503.5 812.3 505 C813.2 506.5 813.6 508.7 813.3 510 C813 511.2 810.8 512.1 810.3 512.5"/>
<path class="m" d="M774.9 534.4 C775.1 534.8 775.4 536.3 775.9 536.7 C776.4 537.2 777.2 537.3 777.9 537.1 C778.5 537 779.5 536.1 779.9 535.9"/>
<path class="l" d="M779.9 535.7 L841.9 499.4"/>
<path class="l" d="M738 559.4 L761.9 545.9"/>
<path class="l" d="M778.9 544.9 L852 505"/>
<path class="l" d="M778.9 544.9 C778.3 545.4 776.4 546.7 775.7 547.9 C774.9 549.1 774.6 551.2 774.4 551.9"/>
<path class="d2" d="M774.4 551.9 L774.4 571.9 L779.9 573.9"/>
<path class="l" d="M738 568.9 L761.9 556.9"/>
<path class="m" d="M761.9 556.9 C762.4 556.9 764.2 556.4 764.9 557.1 C765.6 557.8 765.7 560.3 765.9 560.9"/>
<path class="l" d="M765.9 560.9 L765.9 582.8"/>
<path class="l" d="M740 569.9 L764.9 583.3"/>
<path class="l" d="M747.9 564.9 L763.9 575.4"/>
<path class="l" d="M765.9 576.4 L774.4 571.9"/>
<path class="l" d="M765.9 582.8 L779.9 574.4"/>
<path class="m" d="M775.9 553.9 L812.8 573.9"/>
<path class="d" d="M779.9 554.4 L809.8 571.4"/>
<path class="l" d="M812.8 573.9 L813.8 577.9 L807.8 581.8"/>
<path class="l" d="M812.8 573.9 L764.4 599.8"/>
<path class="l" d="M807.8 581.8 L761.9 607.8"/>
<path class="l" d="M764.4 599.8 C764.1 600.4 762.8 602 762.4 603.3 C762 604.6 762 607 761.9 607.8"/>
<path class="l" d="M761.9 607.8 L757.9 609.8 L750.9 606.8"/>
<path class="l" d="M738 584.8 L764.4 599.8"/>
<path class="l" d="M738 592.8 L761.7 605.3"/>
<path class="l" d="M779.9 547.9 L852 582.8"/>
<path class="l" d="M807.8 581.8 L835.8 594.3 L845.7 587.8 L845.7 580.8"/>
<path class="d2" d="M836.3 575.9 L836.3 593.8"/>
<path class="l" d="M840.8 590.8 L852 596.8"/>
<path class="m" d="M788.9 592.8 C789.4 592.9 791.3 593.3 792.4 593 C793.4 592.8 794.6 591.9 795.3 591.3 C796.1 590.7 796.6 589.7 796.8 589.3"/>
<path class="l" d="M796.8 589.3 L809.8 596.8"/>
<path class="l" d="M809.8 596.8 C810.3 597.6 812.1 599.6 812.8 601.3 C813.5 603 813.6 605.9 813.8 606.8"/>
<path class="l" d="M776.9 598.8 L791.9 608.8"/>
<path class="l" d="M787.9 612.3 L809.8 598.8"/>
<path class="l" d="M795.8 612.3 L812.8 603.8"/>
<path class="l" d="M743.5 603.8 L743.5 612.8"/>
<path class="l" d="M746.4 603.8 L746.4 612.8"/>
<path class="l" d="M749.4 603.8 L749.4 612.8"/>
<path class="l" d="M743.5 603.6 L746.4 603.6 L749.4 604.8"/>
<path class="l" d="M727.5 612.8 L727.5 624.9 L730 625.9"/>
<path class="l" d="M727.5 621.9 L737.5 616.5"/>
<path class="m" d="M730 625.9 L741 621.4 L743 627.9"/>
<path class="l" d="M732 629.4 L742.5 624.9"/>
<path class="d" d="M732 623.9 L737.5 621.9"/>
<path class="d2" d="M730 625.9 C730.4 626.6 732.1 627.6 732.5 629.9 C732.9 632.3 732.3 636.4 732.5 639.9 C732.6 643.4 732.6 646.6 733.5 650.9 C734.4 655.2 737.2 663.4 738 665.9"/>
<path class="m" d="M742.5 627.9 C742.5 630.4 742 639.1 742.5 642.9 C743 646.7 744.4 648.9 745.4 650.9 C746.5 652.9 748.4 654.2 748.9 654.9"/>
<path class="b" d="M748.9 654.9 L748.9 671.3"/>
<path class="l" d="M738 665.9 L746.9 671.3 L749.4 671.3"/>
<path class="d2" d="M717 634.9 L732 643.9"/>
<path class="l" d="M743.5 603.5 L743.5 620.4"/>
<path class="l" d="M743.5 603.5 L746.9 603.5 L749.4 606 L749.4 615 L750.4 616.5 L744 620"/>
<path class="l" d="M746.4 604 L746.4 618.5"/>
<path class="l" d="M744 620 L758.4 627.9"/>
<path class="l" d="M758.4 627.9 C758.8 628.6 760.1 630.4 760.7 631.9 C761.3 633.4 761.6 635.8 761.9 636.9 C762.3 638.1 762.7 638.6 762.9 638.9"/>
<path class="b" d="M743 628.1 L760.9 637.1"/>
<path class="l" d="M743.5 638.4 L762.9 651.9"/>
<path class="l" d="M760.9 638.9 L762.9 638.6"/>
<path class="l" d="M758.4 627.9 L787.9 612.3"/>
<path class="l" d="M760.9 632.4 L795.8 612.3"/>
<path class="l" d="M761.9 636.9 L809.8 612"/>
<path class="l" d="M809.8 612 C810.3 611.4 812.1 609.7 812.8 608.5 C813.5 607.2 813.6 605.1 813.8 604.5"/>
<path class="l" d="M776.9 598.8 L827.3 629.4"/>
<path class="l" d="M811.8 608 L859.7 636.9"/>
<path class="l" d="M809.8 612 L826.8 621.9 L827.3 629.4"/>
<path class="l" d="M762.9 651.9 L787.9 638.1"/>
<path class="l" d="M798.8 637.1 L826.8 621.9"/>
<path class="l" d="M749.4 668.9 C750.1 668.7 754.7 668.1 755.9 667.7 C757.2 667.3 758.7 666.7 761.9 664.9 C765.1 663.1 785.3 651.2 787.9 649.7"/>
<path class="l" d="M798.8 650.5 C800.9 649.2 817.2 639.5 819.8 637.9 C822.4 636.4 824 635.6 824.8 634.9 C825.5 634.3 827 631.8 827.3 631.4"/>
<path class="l" d="M748.9 654.9 L757.9 654.7 L763.9 651.7"/>
<path class="l" d="M787.9 638.1 L787.9 649.8"/>
<path class="l" d="M791.4 638.1 L791.4 649.8"/>
<path class="l" d="M793.4 639.6 L793.4 651.3"/>
<path class="l" d="M797.3 639.6 L797.3 651.3"/>
<path class="l" d="M798.8 639.6 L798.8 651.3"/>
<path class="l" d="M787.9 638.1 L791.4 638.1 L793.4 639.6 L798.8 639.6"/>
<path class="l" d="M787.9 649.6 L791.4 649.6 L793.4 651.4 L798.8 651.4"/>
<path class="l" d="M852 596.8 L888.8 621.4"/>
<path class="l" d="M851.4 571 L851.4 582 L853.9 584.5 L862.9 584 L867.9 580.5"/>
<path class="l" d="M856.4 574 C856.4 574.9 856.1 578.1 856.7 579.5 C857.3 580.8 858.5 581.6 859.9 582 C861.2 582.3 864 581.5 864.9 581.5"/>
<path class="l" d="M883.8 588.4 L860.9 602.9"/>
<path class="m" d="M885.3 589.9 L885.3 599.9"/>
<path class="l" d="M885.3 599.9 L869.9 608.9"/>
<path class="l" d="M888.8 621.4 L888.3 633.9 L882.8 635.3"/>
<path class="l" d="M888.8 621.4 L872.9 629.9"/>
<path class="l" d="M886.8 623.9 L874.9 631.4 L881.8 635.8"/>
<path class="l" d="M827.2 629.5 L848.9 642.3"/>
<path class="d2" d="M822.9 528.4 L845.4 544.4"/>
<path class="k" d="M854.4 505.9 L848.9 506.7 L850.4 509.4Z"/>
</g>
<g id="conn">
<path class="w" d="M840 450.7 L871.7 432.3 L954.5 478.6 L958.2 478.9 L972.9 470.9 L979 470.9 L993.9 479.1 L993.9 592.1 L978.2 602.6 L971.9 603 L960.2 600.5 L941.7 611.4 L940.5 609.6 L940.5 624.8 L923.3 634.9 L909.1 625.1 L909 507.6Z"/>
<path class="w" d="M840 450.7 L855.8 440.2 L909.2 473.2 L909.2 505.9 L840 462.9Z"/>
<path class="w" d="M840 483.5 L855.8 473 L909.2 506 L909.2 538.6 L840 495.6Z"/>
<path class="w" d="M840 516.2 L855.8 505.7 L909.2 538.7 L909.2 571.4 L840 528.4Z"/>
<path class="w" d="M840 549 L855.8 538.5 L909.2 571.5 L909.2 604.1 L840 561.1Z"/>
<path class="m" d="M840 450.7 L840 462.9"/>
<path class="l" d="M840 450.7 L923 497.2"/>
<path class="l" d="M841 453.2 L923 499.8"/>
<path class="m" d="M840 462.9 L909.2 505.9"/>
<path class="m" d="M840 483.5 L840 495.6"/>
<path class="l" d="M840 483.5 L909.2 522.4"/>
<path class="l" d="M841 486 L909.2 524.9"/>
<path class="l" d="M840 483.5 L855.8 472.9"/>
<path class="m" d="M840 495.6 L909.2 538.6"/>
<path class="m" d="M840 516.2 L840 528.4"/>
<path class="l" d="M840 516.2 L909.2 555.1"/>
<path class="l" d="M841 518.7 L909.2 557.6"/>
<path class="l" d="M840 516.2 L855.8 505.6"/>
<path class="m" d="M840 528.4 L909.2 571.4"/>
<path class="m" d="M840 549 L840 561.1"/>
<path class="l" d="M840 549 L909.2 587.9"/>
<path class="l" d="M841 551.5 L909.2 590.4"/>
<path class="l" d="M840 549 L855.8 538.4"/>
<path class="m" d="M840 561.1 L909.2 604.1"/>
<path class="l" d="M840 450.7 L871.7 432.3"/>
<path class="l" d="M871.7 432.3 C876.5 435 904 450.4 913.2 455.5 C922.4 460.6 945.4 473.5 950.2 476.2 C955 478.9 953.6 478.3 954.5 478.6 C955.4 478.9 957.2 479.1 958.2 478.8 C959.2 478.5 961.5 477.1 963.2 476.2 C964.9 475.3 971.1 471.5 972.9 470.9 C974.7 470.3 977.7 470.6 979 470.9 C980.3 471.2 982.5 472.8 984.2 473.8 C985.9 474.8 992.8 478.5 993.9 479.1"/>
<path class="l" d="M923 497 L923 500.8 L909 508.3"/>
<path class="m" d="M909 507.6 L909 625.1 L923.3 634.9 L940.5 624.8 L940.5 609.6"/>
<path class="l" d="M909 508.6 L922.8 519.6 L939.6 509.8"/>
<path class="l" d="M909 511 L922 521.2"/>
<path class="d2" d="M923 520.6 L923 634.9"/>
<path class="l" d="M994 479.1 L994 592.1"/>
<path class="d2" d="M993.9 479.1 L977.5 487.8"/>
<path class="d2" d="M994 592.1 L978.2 602.6"/>
<path class="l" d="M939.6 509.8 L940 509.8"/>
<path class="m" d="M936.4 502.7 C936.8 502 938.2 498.9 939.2 497.8 C940.2 496.7 942.8 495.5 944.2 494.7 C945.6 493.9 948.2 492.3 949.7 491.5 C951.2 490.7 953.4 489.6 955.3 489 C957.2 488.4 960.8 487.4 963.8 487.3 C966.8 487.2 975.7 488.3 977.5 488.4"/>
<path class="m" d="M936.4 502.7 L940 509.7"/>
<path class="m" d="M941.7 511.4 C942.7 511 947.8 509 949.5 508.2 C951.2 507.4 953.3 506.1 954.7 505.3 C956.1 504.5 958.7 503 959.9 502.3 C961.1 501.6 962.7 500.7 963.8 500.4 C964.9 500.1 967.6 500 968.2 499.9"/>
<path class="d2" d="M960.5 488.6 L960.5 502.5"/>
<path class="l" d="M965.2 487.8 C965.6 488.4 967.1 489.9 967.7 491.3 C968.3 492.7 968.8 494.8 968.7 496.3 C968.6 497.8 967.5 499.6 967.2 500.3"/>
<path class="d" d="M967.7 487.8 C968.1 488.5 969.7 490.7 970.2 492.3 C970.7 493.9 970.9 495.7 970.7 497.3 C970.5 498.9 969.5 501 969.2 501.8"/>
<path class="l" d="M972.6 488.6 L972.6 504.3"/>
<path class="l" d="M977.5 488.6 L977.5 504.9"/>
<path class="m" d="M949.5 508.2 C949.9 508.6 951.4 510.4 952.2 510.9 C953 511.4 954.4 512 955.3 512.2 C956.2 512.4 958.1 512.9 959.2 512.7 C960.3 512.5 962.1 511.5 963.2 510.8 C964.3 510.1 966.8 508.3 967.7 507.5 C968.6 506.7 969.5 505.2 969.8 504.8"/>
<path class="l" d="M971.2 504.9 L977.5 504.9 L981.7 501.4 L986 501.4 L986 516 L977.5 521.5"/>
<path class="l" d="M970.3 505.6 L985.6 512.8"/>
<path class="l" d="M967.7 508.8 L982.7 518"/>
<path class="m" d="M940 509.9 L940 525.6 L932.2 530.1 L932.2 547.1 L940 542.5"/>
<path class="m" d="M936.4 535.4 C936.8 534.8 938.2 531.6 939.2 530.5 C940.2 529.5 942.8 528.3 944.2 527.4 C945.6 526.6 948.2 525 949.7 524.2 C951.2 523.5 953.4 522.3 955.3 521.8 C957.2 521.2 960.8 520.1 963.8 520 C966.8 520 975.7 521 977.5 521.1"/>
<path class="m" d="M936.4 535.4 L940 542.4"/>
<path class="m" d="M941.7 544.1 C942.7 543.7 947.8 541.8 949.5 540.9 C951.2 540.1 953.3 538.8 954.7 538 C956.1 537.3 958.7 535.7 959.9 535 C961.1 534.4 962.7 533.5 963.8 533.1 C964.9 532.8 967.6 532.7 968.2 532.6"/>
<path class="d2" d="M960.5 521.4 L960.5 535.2"/>
<path class="l" d="M965.2 520.5 C965.6 521.1 967.1 522.6 967.7 524 C968.3 525.5 968.8 527.5 968.7 529 C968.6 530.5 967.5 532.4 967.2 533"/>
<path class="d" d="M967.7 520.5 C968.1 521.3 969.7 523.5 970.2 525 C970.7 526.6 970.9 528.5 970.7 530 C970.5 531.6 969.5 533.8 969.2 534.5"/>
<path class="l" d="M972.6 521.4 L972.6 537"/>
<path class="l" d="M977.5 521.4 L977.5 537.6"/>
<path class="m" d="M949.5 540.9 C949.9 541.3 951.4 543.1 952.2 543.6 C953 544.2 954.4 544.7 955.3 544.9 C956.2 545.2 958.1 545.6 959.2 545.4 C960.3 545.3 962.1 544.2 963.2 543.5 C964.3 542.9 966.8 541 967.7 540.2 C968.6 539.5 969.5 537.9 969.8 537.5"/>
<path class="l" d="M971.2 537.6 L977.5 537.6 L981.7 534.1 L986 534.1 L986 548.8 L977.5 554.2"/>
<path class="l" d="M970.3 538.4 L985.6 545.5"/>
<path class="l" d="M967.7 541.5 L982.7 550.8"/>
<path class="m" d="M940 542.7 L940 558.4 L932.2 562.9 L932.2 579.9 L940 575.3"/>
<path class="m" d="M936.4 568.2 C936.8 567.5 938.2 564.4 939.2 563.3 C940.2 562.2 942.8 561 944.2 560.2 C945.6 559.4 948.2 557.8 949.7 557 C951.2 556.2 953.4 555.1 955.3 554.5 C957.2 553.9 960.8 552.9 963.8 552.8 C966.8 552.7 975.7 553.8 977.5 553.9"/>
<path class="m" d="M936.4 568.2 L940 575.2"/>
<path class="m" d="M941.7 576.9 C942.7 576.5 947.8 574.5 949.5 573.7 C951.2 572.9 953.3 571.6 954.7 570.8 C956.1 570 958.7 568.5 959.9 567.8 C961.1 567.1 962.7 566.2 963.8 565.9 C964.9 565.6 967.6 565.5 968.2 565.4"/>
<path class="d2" d="M960.5 554.1 L960.5 568"/>
<path class="l" d="M965.2 553.3 C965.6 553.9 967.1 555.4 967.7 556.8 C968.3 558.2 968.8 560.3 968.7 561.8 C968.6 563.3 967.5 565.1 967.2 565.8"/>
<path class="d" d="M967.7 553.3 C968.1 554 969.7 556.2 970.2 557.8 C970.7 559.4 970.9 561.2 970.7 562.8 C970.5 564.4 969.5 566.5 969.2 567.3"/>
<path class="l" d="M972.6 554.1 L972.6 569.8"/>
<path class="l" d="M977.5 554.1 L977.5 570.4"/>
<path class="m" d="M949.5 573.7 C949.9 574.1 951.4 575.9 952.2 576.4 C953 576.9 954.4 577.5 955.3 577.7 C956.2 577.9 958.1 578.4 959.2 578.2 C960.3 578 962.1 577 963.2 576.3 C964.3 575.6 966.8 573.8 967.7 573 C968.6 572.2 969.5 570.7 969.8 570.3"/>
<path class="l" d="M971.2 570.4 L977.5 570.4 L981.7 566.9 L986 566.9 L986 581.5 L977.5 587"/>
<path class="l" d="M970.3 571.1 L985.6 578.3"/>
<path class="l" d="M967.7 574.3 L982.7 583.5"/>
<path class="m" d="M940 575.4 L940 591.1 L932.2 595.6 L932.2 612.6 L940 608.1"/>
<path class="m" d="M936.4 600.9 C936.8 600.3 938.2 597.1 939.2 596 C940.2 595 942.8 593.8 944.2 592.9 C945.6 592.1 948.2 590.5 949.7 589.8 C951.2 589 953.4 587.8 955.3 587.2 C957.2 586.7 960.8 585.6 963.8 585.5 C966.8 585.5 975.7 586.5 977.5 586.6"/>
<path class="m" d="M936.4 600.9 L940 608"/>
<path class="m" d="M941.7 609.6 C942.7 609.2 947.8 607.3 949.5 606.4 C951.2 605.6 953.3 604.3 954.7 603.5 C956.1 602.8 958.7 601.2 959.9 600.5 C961.1 599.9 962.7 599 963.8 598.6 C964.9 598.3 967.6 598.2 968.2 598.1"/>
<path class="d2" d="M960.5 586.9 L960.5 600.8"/>
<path class="l" d="M965.2 586 C965.6 586.6 967.1 588.1 967.7 589.5 C968.3 591 968.8 593 968.7 594.5 C968.6 596 967.5 597.9 967.2 598.5"/>
<path class="d" d="M967.7 586 C968.1 586.8 969.7 589 970.2 590.5 C970.7 592.1 970.9 594 970.7 595.5 C970.5 597.1 969.5 599.3 969.2 600"/>
<path class="l" d="M972.6 586.9 L972.6 602.5"/>
<path class="l" d="M977.5 586.9 L977.5 603.1"/>
<path class="l" d="M960.5 600.8 L964.2 600.5 L966.2 602.1 L971.9 603 L978.2 602.6"/>
<path class="w" d="M839.5 648 L870.2 630.7 L953 675.3 L961.4 675.9 L974.4 668.5 L994 676.3 L994 691.5 L977.2 701.4 L959.5 701.4 L940.9 707 L940.6 721.9 L922.3 730.2 L908.4 721.9 L908.4 707 L911.2 703.3 L839.5 659.5Z"/>
<path class="m" d="M839.5 648 L839.5 659.5"/>
<path class="l" d="M839.5 648 L923.6 695.3"/>
<path class="l" d="M840.5 650.2 L923.6 697.5"/>
<path class="m" d="M839.5 659.5 L911.2 703.3"/>
<path class="l" d="M839.5 648 L870.2 630.7"/>
<path class="l" d="M870.2 630.7 C875.2 633.4 903.7 648.7 913 653.8 C922.4 658.8 945.6 671.3 950.2 673.9 C954.9 676.4 952.2 675.1 953 675.3 C953.8 675.6 956.3 676.3 957.3 676.3 C958.3 676.3 960 675.9 961.4 675.3 C962.7 674.8 967.3 672.4 968.8 671.6 C970.4 670.8 973.3 668.7 974.4 668.5 C975.5 668.2 975.9 668.7 978.1 669.6 C980.4 670.5 992.1 675.5 994 676.3"/>
<path class="l" d="M923.6 694.9 L924.2 698 L909.3 706.4"/>
<path class="m" d="M908.4 707 L908.4 721.9 L922.3 730.2 L940.6 721.9 L940.6 707"/>
<path class="l" d="M908.9 707 L922.3 717.2 L940.6 707"/>
<path class="l" d="M908.9 709 L922 719.1"/>
<path class="d2" d="M922.3 717.2 L922.3 730.2"/>
<path class="m" d="M994 676.3 L994 691.5 L977.2 701.4 L968.8 701.4"/>
<path class="l" d="M977.2 684.7 L994 676.3"/>
<path class="l" d="M959.5 684.1 L959.5 701.4"/>
<path class="l" d="M967 684.1 L967 701.4"/>
<path class="l" d="M972.6 684.1 L972.6 701.4"/>
<path class="l" d="M977.2 684.1 L977.2 701.4"/>
<path class="l" d="M959.5 684.1 L977.2 684.7"/>
<path class="l" d="M959.5 700.5 L968.8 701.4"/>
<path class="l" d="M959.5 683.7 C958.1 684 953 684.5 950.2 685.6 C947.4 686.7 942.9 689.3 940.9 691.2 C938.9 693 937.1 695.7 936.8 697.7 C936.6 699.6 938.7 703.2 939.1 704.2"/>
<path class="l" d="M959.5 699.5 C958.1 700 953 701.2 950.2 702.3 C947.4 703.4 942.3 706.3 940.9 707"/>
<path class="w" d="M1061.8 355.1 L1093.5 336.7 L1176.3 383 L1180 383.3 L1194.7 375.3 L1200.8 375.3 L1215.7 383.5 L1215.7 693.1 L1200 703.6 L1193.7 704 L1182 701.5 L1163.5 712.2 L1162.3 710.5 L1162.3 725.7 L1145.1 735.8 L1130.9 726.1 L1130.8 412Z"/>
<path class="w" d="M1061.8 355.1 L1077.6 344.6 L1131 377.6 L1131 410.3 L1061.8 367.3Z"/>
<path class="w" d="M1061.8 387.9 L1077.6 377.4 L1131 410.4 L1131 443.1 L1061.8 400.1Z"/>
<path class="w" d="M1061.8 420.6 L1077.6 410.1 L1131 443.1 L1131 475.8 L1061.8 432.8Z"/>
<path class="w" d="M1061.8 453.4 L1077.6 442.9 L1131 475.9 L1131 508.6 L1061.8 465.6Z"/>
<path class="w" d="M1061.8 486.1 L1077.6 475.6 L1131 508.6 L1131 541.3 L1061.8 498.3Z"/>
<path class="w" d="M1061.8 518.9 L1077.6 508.4 L1131 541.4 L1131 574.1 L1061.8 531.1Z"/>
<path class="w" d="M1061.8 551.6 L1077.6 541.1 L1131 574.1 L1131 606.8 L1061.8 563.8Z"/>
<path class="w" d="M1061.8 584.4 L1077.6 573.9 L1131 606.9 L1131 639.6 L1061.8 596.6Z"/>
<path class="w" d="M1061.8 617.1 L1077.6 606.6 L1131 639.6 L1131 672.3 L1061.8 629.3Z"/>
<path class="w" d="M1061.8 649.9 L1077.6 639.4 L1131 672.4 L1131 705.1 L1061.8 662.1Z"/>
<path class="m" d="M1061.8 355.1 L1061.8 367.3"/>
<path class="l" d="M1061.8 355.1 L1144.8 401.6"/>
<path class="l" d="M1062.8 357.6 L1144.8 404.2"/>
<path class="m" d="M1061.8 367.3 L1131 410.3"/>
<path class="m" d="M1061.8 387.9 L1061.8 400.1"/>
<path class="l" d="M1061.8 387.9 L1131 426.8"/>
<path class="l" d="M1062.8 390.4 L1131 429.2"/>
<path class="l" d="M1061.8 387.9 L1077.6 377.2"/>
<path class="m" d="M1061.8 400.1 L1131 443.1"/>
<path class="m" d="M1061.8 420.6 L1061.8 432.8"/>
<path class="l" d="M1061.8 420.6 L1131 459.5"/>
<path class="l" d="M1062.8 423.1 L1131 462"/>
<path class="l" d="M1061.8 420.6 L1077.6 410"/>
<path class="m" d="M1061.8 432.8 L1131 475.8"/>
<path class="m" d="M1061.8 453.4 L1061.8 465.6"/>
<path class="l" d="M1061.8 453.4 L1131 492.2"/>
<path class="l" d="M1062.8 455.9 L1131 494.8"/>
<path class="l" d="M1061.8 453.4 L1077.6 442.8"/>
<path class="m" d="M1061.8 465.6 L1131 508.6"/>
<path class="m" d="M1061.8 486.1 L1061.8 498.3"/>
<path class="l" d="M1061.8 486.1 L1131 525"/>
<path class="l" d="M1062.8 488.6 L1131 527.5"/>
<path class="l" d="M1061.8 486.1 L1077.6 475.5"/>
<path class="m" d="M1061.8 498.3 L1131 541.3"/>
<path class="m" d="M1061.8 518.9 L1061.8 531.1"/>
<path class="l" d="M1061.8 518.9 L1131 557.8"/>
<path class="l" d="M1062.8 521.4 L1131 560.2"/>
<path class="l" d="M1061.8 518.9 L1077.6 508.2"/>
<path class="m" d="M1061.8 531.1 L1131 574.1"/>
<path class="m" d="M1061.8 551.6 L1061.8 563.8"/>
<path class="l" d="M1061.8 551.6 L1131 590.5"/>
<path class="l" d="M1062.8 554.1 L1131 593"/>
<path class="l" d="M1061.8 551.6 L1077.6 541"/>
<path class="m" d="M1061.8 563.8 L1131 606.8"/>
<path class="m" d="M1061.8 584.4 L1061.8 596.6"/>
<path class="l" d="M1061.8 584.4 L1131 623.2"/>
<path class="l" d="M1062.8 586.9 L1131 625.8"/>
<path class="l" d="M1061.8 584.4 L1077.6 573.8"/>
<path class="m" d="M1061.8 596.6 L1131 639.6"/>
<path class="m" d="M1061.8 617.1 L1061.8 629.3"/>
<path class="l" d="M1061.8 617.1 L1131 656"/>
<path class="l" d="M1062.8 619.6 L1131 658.5"/>
<path class="l" d="M1061.8 617.1 L1077.6 606.5"/>
<path class="m" d="M1061.8 629.3 L1131 672.3"/>
<path class="m" d="M1061.8 649.9 L1061.8 662.1"/>
<path class="l" d="M1061.8 649.9 L1131 688.8"/>
<path class="l" d="M1062.8 652.4 L1131 691.2"/>
<path class="l" d="M1061.8 649.9 L1077.6 639.2"/>
<path class="m" d="M1061.8 662.1 L1131 705.1"/>
<path class="l" d="M1061.8 355.1 L1093.5 336.7"/>
<path class="l" d="M1093.5 336.7 C1098.3 339.4 1125.8 354.8 1135 359.9 C1144.2 365 1167.2 377.9 1172 380.6 C1176.8 383.3 1175.4 382.7 1176.3 383 C1177.2 383.3 1179 383.5 1180 383.2 C1181 382.9 1183.3 381.5 1185 380.6 C1186.7 379.7 1192.9 375.9 1194.7 375.3 C1196.5 374.7 1199.5 375 1200.8 375.3 C1202.1 375.6 1204.3 377.2 1206 378.2 C1207.7 379.2 1214.6 382.9 1215.7 383.5"/>
<path class="l" d="M1144.8 401.4 L1144.8 405.2 L1130.8 412.7"/>
<path class="m" d="M1130.8 412 L1130.8 726.1 L1145.1 735.8 L1162.3 725.7 L1162.3 710.5"/>
<path class="l" d="M1130.8 413 L1144.6 424 L1161.4 414.2"/>
<path class="l" d="M1130.8 415.4 L1143.8 425.6"/>
<path class="d2" d="M1144.8 425 L1144.8 556.7"/>
<path class="l" d="M1144.8 556.7 L1144.8 735.8"/>
<path class="l" d="M1215.8 383.5 L1215.8 693.1"/>
<path class="d2" d="M1215.7 383.5 L1199.3 392.2"/>
<path class="d2" d="M1215.8 693.1 L1200 703.6"/>
<path class="l" d="M1161.4 414.2 L1161.8 414.2"/>
<path class="m" d="M1158.2 407.1 C1158.6 406.4 1160 403.3 1161 402.2 C1162 401.1 1164.6 399.9 1166 399.1 C1167.4 398.3 1170 396.7 1171.5 395.9 C1173 395.1 1175.2 394 1177.1 393.4 C1179 392.8 1182.6 391.8 1185.6 391.7 C1188.6 391.6 1197.5 392.7 1199.3 392.8"/>
<path class="m" d="M1158.2 407.1 L1161.8 414.1"/>
<path class="m" d="M1163.5 415.8 C1164.5 415.4 1169.6 413.4 1171.3 412.6 C1173 411.8 1175.1 410.5 1176.5 409.7 C1177.9 408.9 1180.5 407.4 1181.7 406.7 C1182.9 406 1184.5 405.1 1185.6 404.8 C1186.7 404.5 1189.4 404.4 1190 404.3"/>
<path class="d2" d="M1182.3 393 L1182.3 406.9"/>
<path class="l" d="M1187 392.2 C1187.4 392.8 1188.9 394.3 1189.5 395.7 C1190.1 397.1 1190.6 399.2 1190.5 400.7 C1190.4 402.2 1189.2 404 1189 404.7"/>
<path class="d" d="M1189.5 392.2 C1189.9 392.9 1191.5 395.1 1192 396.7 C1192.5 398.3 1192.7 400.1 1192.5 401.7 C1192.3 403.3 1191.2 405.4 1191 406.2"/>
<path class="l" d="M1194.4 393 L1194.4 408.7"/>
<path class="l" d="M1199.3 393 L1199.3 409.3"/>
<path class="m" d="M1171.3 412.6 C1171.7 413 1173.2 414.8 1174 415.3 C1174.8 415.8 1176.2 416.4 1177.1 416.6 C1178 416.8 1179.9 417.3 1181 417.1 C1182.1 416.9 1183.9 415.9 1185 415.2 C1186.1 414.5 1188.6 412.7 1189.5 411.9 C1190.4 411.1 1191.3 409.6 1191.6 409.2"/>
<path class="l" d="M1193 409.3 L1199.3 409.3 L1203.5 405.8 L1207.8 405.8 L1207.8 420.4 L1199.3 425.9"/>
<path class="l" d="M1192.1 410 L1207.4 417.2"/>
<path class="l" d="M1189.5 413.2 L1204.5 422.4"/>
<path class="m" d="M1161.8 414.3 L1161.8 430.1 L1154 434.6 L1154 451.6 L1161.8 446.9"/>
<path class="m" d="M1158.2 439.8 C1158.6 439.2 1160 436 1161 434.9 C1162 433.9 1164.6 432.7 1166 431.8 C1167.4 431 1170 429.4 1171.5 428.6 C1173 427.9 1175.2 426.7 1177.1 426.1 C1179 425.6 1182.6 424.5 1185.6 424.4 C1188.6 424.4 1197.5 425.4 1199.3 425.6"/>
<path class="m" d="M1158.2 439.8 L1161.8 446.8"/>
<path class="m" d="M1163.5 448.6 C1164.5 448.1 1169.6 446.2 1171.3 445.3 C1173 444.5 1175.1 443.2 1176.5 442.4 C1177.9 441.7 1180.5 440.1 1181.7 439.4 C1182.9 438.8 1184.5 437.9 1185.6 437.6 C1186.7 437.2 1189.4 437.1 1190 437.1"/>
<path class="d2" d="M1182.3 425.8 L1182.3 439.6"/>
<path class="l" d="M1187 424.9 C1187.4 425.5 1188.9 427 1189.5 428.4 C1190.1 429.9 1190.6 431.9 1190.5 433.4 C1190.4 434.9 1189.2 436.8 1189 437.4"/>
<path class="d" d="M1189.5 424.9 C1189.9 425.7 1191.5 427.9 1192 429.4 C1192.5 431 1192.7 432.9 1192.5 434.4 C1192.3 436 1191.2 438.2 1191 438.9"/>
<path class="l" d="M1194.4 425.8 L1194.4 441.4"/>
<path class="l" d="M1199.3 425.8 L1199.3 442.1"/>
<path class="m" d="M1171.3 445.3 C1171.7 445.7 1173.2 447.5 1174 448.1 C1174.8 448.6 1176.2 449.1 1177.1 449.3 C1178 449.6 1179.9 450 1181 449.8 C1182.1 449.7 1183.9 448.6 1185 447.9 C1186.1 447.3 1188.6 445.4 1189.5 444.6 C1190.4 443.8 1191.3 442.3 1191.6 441.9"/>
<path class="l" d="M1193 442.1 L1199.3 442.1 L1203.5 438.6 L1207.8 438.6 L1207.8 453.1 L1199.3 458.6"/>
<path class="l" d="M1192.1 442.8 L1207.4 449.9"/>
<path class="l" d="M1189.5 445.9 L1204.5 455.1"/>
<path class="m" d="M1161.8 447.1 L1161.8 462.8 L1154 467.3 L1154 484.3 L1161.8 479.7"/>
<path class="m" d="M1158.2 472.6 C1158.6 471.9 1160 468.8 1161 467.7 C1162 466.6 1164.6 465.4 1166 464.6 C1167.4 463.8 1170 462.2 1171.5 461.4 C1173 460.6 1175.2 459.5 1177.1 458.9 C1179 458.3 1182.6 457.3 1185.6 457.2 C1188.6 457.1 1197.5 458.2 1199.3 458.3"/>
<path class="m" d="M1158.2 472.6 L1161.8 479.6"/>
<path class="m" d="M1163.5 481.3 C1164.5 480.9 1169.6 478.9 1171.3 478.1 C1173 477.3 1175.1 476 1176.5 475.2 C1177.9 474.4 1180.5 472.9 1181.7 472.2 C1182.9 471.5 1184.5 470.6 1185.6 470.3 C1186.7 470 1189.4 469.9 1190 469.8"/>
<path class="d2" d="M1182.3 458.5 L1182.3 472.4"/>
<path class="l" d="M1187 457.7 C1187.4 458.3 1188.9 459.8 1189.5 461.2 C1190.1 462.6 1190.6 464.7 1190.5 466.2 C1190.4 467.7 1189.2 469.5 1189 470.2"/>
<path class="d" d="M1189.5 457.7 C1189.9 458.4 1191.5 460.6 1192 462.2 C1192.5 463.8 1192.7 465.6 1192.5 467.2 C1192.3 468.8 1191.2 470.9 1191 471.7"/>
<path class="l" d="M1194.4 458.5 L1194.4 474.2"/>
<path class="l" d="M1199.3 458.5 L1199.3 474.8"/>
<path class="m" d="M1171.3 478.1 C1171.7 478.5 1173.2 480.3 1174 480.8 C1174.8 481.3 1176.2 481.9 1177.1 482.1 C1178 482.3 1179.9 482.8 1181 482.6 C1182.1 482.4 1183.9 481.4 1185 480.7 C1186.1 480 1188.6 478.2 1189.5 477.4 C1190.4 476.6 1191.3 475.1 1191.6 474.7"/>
<path class="l" d="M1193 474.8 L1199.3 474.8 L1203.5 471.3 L1207.8 471.3 L1207.8 485.9 L1199.3 491.4"/>
<path class="l" d="M1192.1 475.5 L1207.4 482.7"/>
<path class="l" d="M1189.5 478.7 L1204.5 487.9"/>
<path class="m" d="M1161.8 479.8 L1161.8 495.6 L1154 500.1 L1154 517 L1161.8 512.5"/>
<path class="m" d="M1158.2 505.3 C1158.6 504.7 1160 501.5 1161 500.4 C1162 499.4 1164.6 498.2 1166 497.3 C1167.4 496.5 1170 494.9 1171.5 494.1 C1173 493.4 1175.2 492.2 1177.1 491.6 C1179 491.1 1182.6 490 1185.6 489.9 C1188.6 489.9 1197.5 490.9 1199.3 491.1"/>
<path class="m" d="M1158.2 505.3 L1161.8 512.4"/>
<path class="m" d="M1163.5 514 C1164.5 513.6 1169.6 511.7 1171.3 510.8 C1173 510 1175.1 508.7 1176.5 507.9 C1177.9 507.2 1180.5 505.6 1181.7 504.9 C1182.9 504.3 1184.5 503.4 1185.6 503.1 C1186.7 502.7 1189.4 502.6 1190 502.6"/>
<path class="d2" d="M1182.3 491.2 L1182.3 505.1"/>
<path class="l" d="M1187 490.4 C1187.4 491 1188.9 492.5 1189.5 493.9 C1190.1 495.4 1190.6 497.4 1190.5 498.9 C1190.4 500.4 1189.2 502.3 1189 502.9"/>
<path class="d" d="M1189.5 490.4 C1189.9 491.2 1191.5 493.4 1192 494.9 C1192.5 496.5 1192.7 498.4 1192.5 499.9 C1192.3 501.5 1191.2 503.7 1191 504.4"/>
<path class="l" d="M1194.4 491.2 L1194.4 506.9"/>
<path class="l" d="M1199.3 491.2 L1199.3 507.6"/>
<path class="m" d="M1171.3 510.8 C1171.7 511.2 1173.2 513 1174 513.5 C1174.8 514.1 1176.2 514.6 1177.1 514.9 C1178 515.1 1179.9 515.5 1181 515.4 C1182.1 515.2 1183.9 514.1 1185 513.5 C1186.1 512.8 1188.6 510.9 1189.5 510.1 C1190.4 509.3 1191.3 507.8 1191.6 507.4"/>
<path class="l" d="M1193 507.6 L1199.3 507.6 L1203.5 504.1 L1207.8 504.1 L1207.8 518.6 L1199.3 524.1"/>
<path class="l" d="M1192.1 508.2 L1207.4 515.5"/>
<path class="l" d="M1189.5 511.4 L1204.5 520.6"/>
<path class="m" d="M1161.8 512.6 L1161.8 528.3 L1154 532.8 L1154 549.8 L1161.8 545.2"/>
<path class="m" d="M1158.2 538.1 C1158.6 537.4 1160 534.3 1161 533.2 C1162 532.1 1164.6 530.9 1166 530.1 C1167.4 529.3 1170 527.7 1171.5 526.9 C1173 526.1 1175.2 525 1177.1 524.4 C1179 523.8 1182.6 522.8 1185.6 522.7 C1188.6 522.6 1197.5 523.7 1199.3 523.8"/>
<path class="m" d="M1158.2 538.1 L1161.8 545.1"/>
<path class="m" d="M1163.5 546.8 C1164.5 546.4 1169.6 544.4 1171.3 543.6 C1173 542.8 1175.1 541.5 1176.5 540.7 C1177.9 539.9 1180.5 538.4 1181.7 537.7 C1182.9 537 1184.5 536.1 1185.6 535.8 C1186.7 535.5 1189.4 535.4 1190 535.3"/>
<path class="d2" d="M1182.3 524 L1182.3 537.9"/>
<path class="l" d="M1187 523.2 C1187.4 523.8 1188.9 525.3 1189.5 526.7 C1190.1 528.1 1190.6 530.2 1190.5 531.7 C1190.4 533.2 1189.2 535 1189 535.7"/>
<path class="d" d="M1189.5 523.2 C1189.9 524 1191.5 526.1 1192 527.7 C1192.5 529.3 1192.7 531.1 1192.5 532.7 C1192.3 534.3 1191.2 536.5 1191 537.2"/>
<path class="l" d="M1194.4 524 L1194.4 539.7"/>
<path class="l" d="M1199.3 524 L1199.3 540.3"/>
<path class="m" d="M1171.3 543.6 C1171.7 544 1173.2 545.8 1174 546.3 C1174.8 546.8 1176.2 547.4 1177.1 547.6 C1178 547.8 1179.9 548.3 1181 548.1 C1182.1 547.9 1183.9 546.9 1185 546.2 C1186.1 545.5 1188.6 543.7 1189.5 542.9 C1190.4 542.1 1191.3 540.6 1191.6 540.2"/>
<path class="l" d="M1193 540.3 L1199.3 540.3 L1203.5 536.8 L1207.8 536.8 L1207.8 551.4 L1199.3 556.9"/>
<path class="l" d="M1192.1 541 L1207.4 548.2"/>
<path class="l" d="M1189.5 544.2 L1204.5 553.4"/>
<path class="m" d="M1161.8 545.4 L1161.8 561.1 L1154 565.6 L1154 582.6 L1161.8 578"/>
<path class="m" d="M1158.2 570.9 C1158.6 570.2 1160 567 1161 566 C1162 564.9 1164.6 563.7 1166 562.9 C1167.4 562 1170 560.4 1171.5 559.7 C1173 558.9 1175.2 557.7 1177.1 557.2 C1179 556.6 1182.6 555.5 1185.6 555.5 C1188.6 555.4 1197.5 556.4 1199.3 556.6"/>
<path class="m" d="M1158.2 570.9 L1161.8 577.9"/>
<path class="m" d="M1163.5 579.6 C1164.5 579.1 1169.6 577.2 1171.3 576.4 C1173 575.5 1175.1 574.2 1176.5 573.5 C1177.9 572.7 1180.5 571.1 1181.7 570.5 C1182.9 569.8 1184.5 568.9 1185.6 568.6 C1186.7 568.2 1189.4 568.1 1190 568.1"/>
<path class="d2" d="M1182.3 556.8 L1182.3 570.7"/>
<path class="l" d="M1187 556 C1187.4 556.5 1188.9 558 1189.5 559.5 C1190.1 560.9 1190.6 563 1190.5 564.5 C1190.4 566 1189.2 567.8 1189 568.5"/>
<path class="d" d="M1189.5 556 C1189.9 556.7 1191.5 558.9 1192 560.5 C1192.5 562 1192.7 563.9 1192.5 565.5 C1192.3 567 1191.2 569.2 1191 570"/>
<path class="l" d="M1194.4 556.8 L1194.4 572.5"/>
<path class="l" d="M1199.3 556.8 L1199.3 573.1"/>
<path class="m" d="M1171.3 576.4 C1171.7 576.7 1173.2 578.5 1174 579.1 C1174.8 579.6 1176.2 580.1 1177.1 580.4 C1178 580.6 1179.9 581 1181 580.9 C1182.1 580.7 1183.9 579.6 1185 579 C1186.1 578.3 1188.6 576.5 1189.5 575.7 C1190.4 574.9 1191.3 573.3 1191.6 573"/>
<path class="l" d="M1193 573.1 L1199.3 573.1 L1203.5 569.6 L1207.8 569.6 L1207.8 584.2 L1199.3 589.7"/>
<path class="l" d="M1192.1 573.8 L1207.4 581"/>
<path class="l" d="M1189.5 577 L1204.5 586.2"/>
<path class="m" d="M1161.8 578.1 L1161.8 593.8 L1154 598.3 L1154 615.3 L1161.8 610.7"/>
<path class="m" d="M1158.2 603.6 C1158.6 602.9 1160 599.8 1161 598.7 C1162 597.6 1164.6 596.4 1166 595.6 C1167.4 594.8 1170 593.2 1171.5 592.4 C1173 591.6 1175.2 590.5 1177.1 589.9 C1179 589.3 1182.6 588.3 1185.6 588.2 C1188.6 588.1 1197.5 589.2 1199.3 589.3"/>
<path class="m" d="M1158.2 603.6 L1161.8 610.6"/>
<path class="m" d="M1163.5 612.3 C1164.5 611.9 1169.6 609.9 1171.3 609.1 C1173 608.3 1175.1 607 1176.5 606.2 C1177.9 605.4 1180.5 603.9 1181.7 603.2 C1182.9 602.5 1184.5 601.6 1185.6 601.3 C1186.7 601 1189.4 600.9 1190 600.8"/>
<path class="d2" d="M1182.3 589.5 L1182.3 603.4"/>
<path class="l" d="M1187 588.7 C1187.4 589.3 1188.9 590.8 1189.5 592.2 C1190.1 593.6 1190.6 595.7 1190.5 597.2 C1190.4 598.7 1189.2 600.5 1189 601.2"/>
<path class="d" d="M1189.5 588.7 C1189.9 589.5 1191.5 591.6 1192 593.2 C1192.5 594.8 1192.7 596.6 1192.5 598.2 C1192.3 599.8 1191.2 602 1191 602.7"/>
<path class="l" d="M1194.4 589.5 L1194.4 605.2"/>
<path class="l" d="M1199.3 589.5 L1199.3 605.8"/>
<path class="m" d="M1171.3 609.1 C1171.7 609.5 1173.2 611.3 1174 611.8 C1174.8 612.3 1176.2 612.9 1177.1 613.1 C1178 613.3 1179.9 613.8 1181 613.6 C1182.1 613.4 1183.9 612.4 1185 611.7 C1186.1 611 1188.6 609.2 1189.5 608.4 C1190.4 607.6 1191.3 606.1 1191.6 605.7"/>
<path class="l" d="M1193 605.8 L1199.3 605.8 L1203.5 602.3 L1207.8 602.3 L1207.8 616.9 L1199.3 622.4"/>
<path class="l" d="M1192.1 606.5 L1207.4 613.7"/>
<path class="l" d="M1189.5 609.7 L1204.5 618.9"/>
<path class="m" d="M1161.8 610.9 L1161.8 626.6 L1154 631.1 L1154 648.1 L1161.8 643.5"/>
<path class="m" d="M1158.2 636.4 C1158.6 635.7 1160 632.5 1161 631.5 C1162 630.4 1164.6 629.2 1166 628.4 C1167.4 627.5 1170 625.9 1171.5 625.2 C1173 624.4 1175.2 623.2 1177.1 622.7 C1179 622.1 1182.6 621 1185.6 621 C1188.6 620.9 1197.5 621.9 1199.3 622.1"/>
<path class="m" d="M1158.2 636.4 L1161.8 643.4"/>
<path class="m" d="M1163.5 645.1 C1164.5 644.6 1169.6 642.7 1171.3 641.9 C1173 641 1175.1 639.7 1176.5 639 C1177.9 638.2 1180.5 636.6 1181.7 636 C1182.9 635.3 1184.5 634.4 1185.6 634.1 C1186.7 633.7 1189.4 633.6 1190 633.6"/>
<path class="d2" d="M1182.3 622.2 L1182.3 636.2"/>
<path class="l" d="M1187 621.5 C1187.4 622 1188.9 623.5 1189.5 625 C1190.1 626.4 1190.6 628.5 1190.5 630 C1190.4 631.5 1189.2 633.3 1189 634"/>
<path class="d" d="M1189.5 621.5 C1189.9 622.2 1191.5 624.4 1192 626 C1192.5 627.5 1192.7 629.4 1192.5 631 C1192.3 632.5 1191.2 634.7 1191 635.5"/>
<path class="l" d="M1194.4 622.2 L1194.4 638"/>
<path class="l" d="M1199.3 622.2 L1199.3 638.6"/>
<path class="m" d="M1171.3 641.9 C1171.7 642.2 1173.2 644 1174 644.6 C1174.8 645.1 1176.2 645.6 1177.1 645.9 C1178 646.1 1179.9 646.5 1181 646.4 C1182.1 646.2 1183.9 645.1 1185 644.5 C1186.1 643.8 1188.6 642 1189.5 641.2 C1190.4 640.4 1191.3 638.8 1191.6 638.5"/>
<path class="l" d="M1193 638.6 L1199.3 638.6 L1203.5 635.1 L1207.8 635.1 L1207.8 649.7 L1199.3 655.2"/>
<path class="l" d="M1192.1 639.2 L1207.4 646.5"/>
<path class="l" d="M1189.5 642.5 L1204.5 651.7"/>
<path class="m" d="M1161.8 643.6 L1161.8 659.3 L1154 663.8 L1154 680.8 L1161.8 676.2"/>
<path class="m" d="M1158.2 669.1 C1158.6 668.4 1160 665.3 1161 664.2 C1162 663.1 1164.6 661.9 1166 661.1 C1167.4 660.3 1170 658.7 1171.5 657.9 C1173 657.1 1175.2 656 1177.1 655.4 C1179 654.8 1182.6 653.8 1185.6 653.7 C1188.6 653.6 1197.5 654.7 1199.3 654.8"/>
<path class="m" d="M1158.2 669.1 L1161.8 676.1"/>
<path class="m" d="M1163.5 677.8 C1164.5 677.4 1169.6 675.4 1171.3 674.6 C1173 673.8 1175.1 672.5 1176.5 671.7 C1177.9 670.9 1180.5 669.4 1181.7 668.7 C1182.9 668 1184.5 667.1 1185.6 666.8 C1186.7 666.5 1189.4 666.4 1190 666.3"/>
<path class="d2" d="M1182.3 655 L1182.3 668.9"/>
<path class="l" d="M1187 654.2 C1187.4 654.8 1188.9 656.3 1189.5 657.7 C1190.1 659.1 1190.6 661.2 1190.5 662.7 C1190.4 664.2 1189.2 666 1189 666.7"/>
<path class="d" d="M1189.5 654.2 C1189.9 655 1191.5 657.1 1192 658.7 C1192.5 660.3 1192.7 662.1 1192.5 663.7 C1192.3 665.3 1191.2 667.5 1191 668.2"/>
<path class="l" d="M1194.4 655 L1194.4 670.7"/>
<path class="l" d="M1199.3 655 L1199.3 671.3"/>
<path class="m" d="M1171.3 674.6 C1171.7 675 1173.2 676.8 1174 677.3 C1174.8 677.8 1176.2 678.4 1177.1 678.6 C1178 678.8 1179.9 679.3 1181 679.1 C1182.1 678.9 1183.9 677.9 1185 677.2 C1186.1 676.5 1188.6 674.7 1189.5 673.9 C1190.4 673.1 1191.3 671.6 1191.6 671.2"/>
<path class="l" d="M1193 671.3 L1199.3 671.3 L1203.5 667.8 L1207.8 667.8 L1207.8 682.4 L1199.3 687.9"/>
<path class="l" d="M1192.1 672 L1207.4 679.2"/>
<path class="l" d="M1189.5 675.2 L1204.5 684.4"/>
<path class="m" d="M1161.8 676.4 L1161.8 692.1 L1154 696.6 L1154 713.6 L1161.8 709"/>
<path class="m" d="M1158.2 701.9 C1158.6 701.2 1160 698 1161 697 C1162 695.9 1164.6 694.7 1166 693.9 C1167.4 693 1170 691.4 1171.5 690.7 C1173 689.9 1175.2 688.7 1177.1 688.2 C1179 687.6 1182.6 686.5 1185.6 686.5 C1188.6 686.4 1197.5 687.4 1199.3 687.6"/>
<path class="m" d="M1158.2 701.9 L1161.8 708.9"/>
<path class="m" d="M1163.5 710.6 C1164.5 710.1 1169.6 708.2 1171.3 707.4 C1173 706.5 1175.1 705.2 1176.5 704.5 C1177.9 703.7 1180.5 702.1 1181.7 701.5 C1182.9 700.8 1184.5 699.9 1185.6 699.6 C1186.7 699.2 1189.4 699.1 1190 699.1"/>
<path class="d2" d="M1182.3 687.8 L1182.3 701.7"/>
<path class="l" d="M1187 687 C1187.4 687.5 1188.9 689 1189.5 690.5 C1190.1 691.9 1190.6 694 1190.5 695.5 C1190.4 697 1189.2 698.8 1189 699.5"/>
<path class="d" d="M1189.5 687 C1189.9 687.7 1191.5 689.9 1192 691.5 C1192.5 693 1192.7 694.9 1192.5 696.5 C1192.3 698 1191.2 700.2 1191 701"/>
<path class="l" d="M1194.4 687.8 L1194.4 703.5"/>
<path class="l" d="M1199.3 687.8 L1199.3 704.1"/>
<path class="l" d="M1182.3 701.7 L1186 701.5 L1188 703.1 L1193.7 704 L1200 703.6"/>
</g>
<g id="dims">
<path class="l" d="M87 647.9 L236 647.9"/>
<path class="l" d="M87 940 L248 940"/>
<path class="l" d="M87.4 648 L87.4 762.5"/>
<path class="l" d="M87.4 826.5 L87.4 940"/>
<path class="l" d="M84.4 661.5 L87.4 648.3 L90.4 661.5"/>
<path class="l" d="M84.4 926.5 L87.4 939.7 L90.4 926.5"/>
<g transform="translate(74.6 827) rotate(-90)"><path transform="translate(-1.5 0) scale(0.930 1)" d="M1.6 7.6 Q6.3 5.6 8.3 1 M8.3 0 V25.4" fill="none" stroke="#000" stroke-width="3.1" stroke-linejoin="miter" stroke-miterlimit="6" style="shape-rendering:auto"/><path transform="translate(13.0 0) scale(0.960 1)" d="M7 1.6 C3.6 1.6 2.5 4.2 2.5 6.6 C2.5 9.6 4.6 11.4 7 11.4 C9.4 11.4 11.5 9.6 11.5 6.6 C11.5 4.2 10.4 1.6 7 1.6Z M7 11.4 C3.6 11.4 1.7 14 1.7 17.6 C1.7 21.4 3.8 23.8 7 23.8 C10.2 23.8 12.3 21.4 12.3 17.6 C12.3 14 10.4 11.4 7 11.4Z" fill="none" stroke="#000" stroke-width="3.1" stroke-linejoin="miter" stroke-miterlimit="6" style="shape-rendering:auto"/><path transform="translate(30.2 0)" d="M0 22 H3.2 V25.4 H0Z" fill="#000"/><path transform="translate(36.7 0) scale(0.930 1)" d="M1.6 7.6 Q6.3 5.6 8.3 1 M8.3 0 V25.4" fill="none" stroke="#000" stroke-width="3.1" stroke-linejoin="miter" stroke-miterlimit="6" style="shape-rendering:auto"/><path transform="translate(51.0 0) scale(0.980 1)" d="M12 1.6 H4.4 L3 12.4 Q5.4 9.8 8 9.9 C11.4 10.1 12.5 13.2 12.4 17 C12.2 21.4 10.2 23.8 7.1 23.8 C4 23.8 2.2 22 1.7 18.9" fill="none" stroke="#000" stroke-width="3.1" stroke-linejoin="miter" stroke-miterlimit="6" style="shape-rendering:auto"/></g>
<path class="l" d="M169.5 909 L169.5 1006.5"/>
<path class="d2" d="M354.4 781 L354.4 1006.5"/>
<path class="l" d="M169.5 1003.3 L229 1003.3"/>
<path class="l" d="M295 1003.3 L354.4 1003.3"/>
<path class="l" d="M182 999.8 L169.8 1003.3 L182 1006.8"/>
<path class="l" d="M342 999.8 L354.1 1003.3 L342 1006.8"/>
<g transform="translate(0 989.8)"><path transform="translate(228.1 0) scale(1.000 1)" d="M1.6 7.6 Q6.3 5.6 8.3 1 M8.3 0 V25.4" fill="none" stroke="#000" stroke-width="3.1" stroke-linejoin="miter" stroke-miterlimit="6" style="shape-rendering:auto"/><path transform="translate(242.9 0) scale(1.000 1)" d="M1.6 7.6 Q6.3 5.6 8.3 1 M8.3 0 V25.4" fill="none" stroke="#000" stroke-width="3.1" stroke-linejoin="miter" stroke-miterlimit="6" style="shape-rendering:auto"/><path transform="translate(259.2 0)" d="M0 22 H3.2 V25.4 H0Z" fill="#000"/><path transform="translate(263.8 0) scale(1.000 1)" d="M10 25.4 V2.6 L1.6 17.9 H14" fill="none" stroke="#000" stroke-width="3.1" stroke-linejoin="miter" stroke-miterlimit="6" style="shape-rendering:auto"/><path transform="translate(280.8 0) scale(1.000 1)" d="M12.1 6.3 C11.4 3 9.8 1.6 7.5 1.6 C3.4 1.6 1.8 6 1.8 13 C1.8 20.4 3.6 23.8 7.3 23.8 C10.6 23.8 12.4 21.2 12.4 16.8 C12.4 12.8 10.6 10.5 7.4 10.5 C4.4 10.5 2.4 12.6 1.9 15.4" fill="none" stroke="#000" stroke-width="3.1" stroke-linejoin="miter" stroke-miterlimit="6" style="shape-rendering:auto"/></g>
<path class="l" d="M660.5 206.3 L763.4 233.6"/>
<path class="k" d="M763.4 233.6 L759.5 230.8 L758.8 233.8Z"/>
<circle class="l" cx="644" cy="201.8" r="16.6" fill="#fff"/>
<g transform="translate(641.6 196) scale(0.46)"><path transform="translate(0.0 0) scale(1.000 1)" d="M1.6 7.6 Q6.3 5.6 8.3 1 M8.3 0 V25.4" fill="none" stroke="#000" stroke-width="4.6" stroke-linejoin="miter" stroke-miterlimit="6" style="shape-rendering:auto"/></g>
<path class="l" d="M879.5 760.4 L921.4 732.1"/>
<path class="k" d="M921.4 732.1 L916.5 733.3 L918.5 736Z"/>
<circle class="l" cx="864.1" cy="772.1" r="16.6" fill="#fff"/>
<g transform="translate(860.7 766.3) scale(0.46)"><path transform="translate(0.0 0) scale(1.000 1)" d="M2 7.4 C2 3.6 4 1.6 7 1.6 C10.2 1.6 12 3.6 12 6.6 C12 9.8 9.8 11.8 7 14.4 C4.2 17 2.4 19.6 1.9 23.8 H12.8" fill="none" stroke="#000" stroke-width="4.6" stroke-linejoin="miter" stroke-miterlimit="6" style="shape-rendering:auto"/></g>
<path class="l" d="M611.5 650.5 L837.5 519.7"/>
<path class="k" d="M838 519.4 L832 520.2 L833.8 523.6Z"/>
<circle class="l" cx="597" cy="657" r="16.6" fill="#fff"/>
<g transform="translate(593.8 651.2) scale(0.46)"><path transform="translate(0.0 0) scale(1.000 1)" d="M2 6.8 C2.4 3.4 4.2 1.6 7 1.6 C10 1.6 11.8 3.4 11.8 6.2 C11.8 9.4 9.6 11.3 6 11.4 C10 11.5 12.4 13.6 12.4 17.2 C12.4 21.4 10 23.8 7 23.8 C3.8 23.8 1.9 21.8 1.5 18.6" fill="none" stroke="#000" stroke-width="4.6" stroke-linejoin="miter" stroke-miterlimit="6" style="shape-rendering:auto"/></g>
<path class="l" d="M1216 561.7 L1247.7 561.7"/>
<path class="k" d="M1216 561.7 L1221 560.2 L1221 563.2Z"/>
<circle class="l" cx="1264.3" cy="561.7" r="16.6" fill="#fff"/>
<g transform="translate(1260.7 555.9) scale(0.46)"><path transform="translate(0.0 0) scale(1.000 1)" d="M10 25.4 V2.6 L1.6 17.9 H14" fill="none" stroke="#000" stroke-width="4.6" stroke-linejoin="miter" stroke-miterlimit="6" style="shape-rendering:auto"/></g>
</g>
<g id="front">
<path class="l" d="M168.7 678.7 A30 30 0 0 1 198.7 648.7 H236 A25.6 29.3 0 0 1 261.6 678 V695 A25.4 27.5 0 0 0 287 722.5 H322 A30.9 27 0 0 1 352.9 749.5 V909 A31 31 0 0 1 321.9 940 H200.7 A32 32 0 0 1 168.7 908Z"/>
<path class="l" d="M171.8 678.7 A26.9 26.9 0 0 1 198.7 651.8 H236 A22.5 26.2 0 0 1 258.5 678 V695 A28.5 30.6 0 0 0 287 725.6 H322 A27.8 23.9 0 0 1 349.8 749.5 V909 A27.9 27.9 0 0 1 321.9 936.9 H200.7 A28.9 28.9 0 0 1 171.8 908Z"/>
<path class="m" d="M199.9 660.6 H230.4 A19.3 19.3 0 0 1 249.7 679.9 V909.6 A19.3 19.3 0 0 1 230.4 928.9 H199.9 A19.3 19.3 0 0 1 180.6 909.6 V679.9 A19.3 19.3 0 0 1 199.9 660.6Z"/>
<path class="d" d="M200 662.2 H230.3 A17.8 17.8 0 0 1 248.1 680 V909.5 A17.8 17.8 0 0 1 230.3 927.3 H200 A17.8 17.8 0 0 1 182.2 909.5 V680 A17.8 17.8 0 0 1 200 662.2Z"/>
<path class="l" d="M199.7 670 H231.4 A8 8 0 0 1 239.4 678 V909.8 A8 8 0 0 1 231.4 917.8 H199.7 A8 8 0 0 1 191.7 909.8 V678 A8 8 0 0 1 199.7 670Z"/>
<path class="d" d="M199.8 671.6 H231.3 A6.5 6.5 0 0 1 237.8 678.1 V909.7 A6.5 6.5 0 0 1 231.3 916.2 H199.8 A6.5 6.5 0 0 1 193.3 909.7 V678.1 A6.5 6.5 0 0 1 199.8 671.6Z"/>
<path class="l" d="M200.5 660.6 L200.5 670"/>
<path class="l" d="M200.5 917.8 L200.5 928.9"/>
<path class="l" d="M229.8 660.6 L229.8 670"/>
<path class="l" d="M229.8 917.8 L229.8 928.9"/>
<path class="l" d="M180.6 679.7 L191.7 679.7"/>
<path class="l" d="M239.4 679.7 L249.7 679.7"/>
<path class="l" d="M180.6 909.4 L191.7 909.4"/>
<path class="l" d="M239.4 909.4 L249.7 909.4"/>
<rect class="b" x="201.2" y="680.7" width="28.8" height="10.6"/>
<rect class="b" x="201.2" y="704.9" width="28.8" height="10.6"/>
<rect class="b" x="201.2" y="729" width="28.8" height="10.6"/>
<rect class="b" x="201.2" y="753.2" width="28.8" height="10.6"/>
<rect class="b" x="201.2" y="777.3" width="28.8" height="10.6"/>
<rect class="b" x="201.2" y="801.5" width="28.8" height="10.6"/>
<rect class="b" x="201.2" y="825.6" width="28.8" height="10.6"/>
<rect class="b" x="201.2" y="849.8" width="28.8" height="10.6"/>
<rect class="b" x="201.2" y="873.9" width="28.8" height="10.6"/>
<rect class="b" x="201.2" y="898.1" width="28.8" height="10.6"/>
<path class="m" d="M292.5 732.9 H322.5 A18.5 18.5 0 0 1 341 751.4 V836.9 A18.5 18.5 0 0 1 322.5 855.4 H292.5 A18.5 18.5 0 0 1 274 836.9 V751.4 A18.5 18.5 0 0 1 292.5 732.9Z"/>
<path class="d" d="M292.6 734.5 H322.4 A17 17 0 0 1 339.4 751.5 V836.8 A17 17 0 0 1 322.4 853.8 H292.6 A17 17 0 0 1 275.6 836.8 V751.5 A17 17 0 0 1 292.6 734.5Z"/>
<path class="l" d="M291.8 742.4 H323.4 A8 8 0 0 1 331.4 750.4 V836.8 A8 8 0 0 1 323.4 844.8 H291.8 A8 8 0 0 1 283.8 836.8 V750.4 A8 8 0 0 1 291.8 742.4Z"/>
<path class="d" d="M291.9 744 H323.3 A6.5 6.5 0 0 1 329.8 750.5 V836.7 A6.5 6.5 0 0 1 323.3 843.2 H291.9 A6.5 6.5 0 0 1 285.4 836.7 V750.5 A6.5 6.5 0 0 1 291.9 744Z"/>
<path class="l" d="M292.5 732.9 L292.5 742.4"/>
<path class="l" d="M292.5 844.8 L292.5 855.4"/>
<path class="l" d="M321.6 732.9 L321.6 742.4"/>
<path class="l" d="M321.6 844.8 L321.6 855.4"/>
<path class="l" d="M274 752.4 L283.8 752.4"/>
<path class="l" d="M331.4 752.4 L341 752.4"/>
<path class="l" d="M274 836.3 L283.8 836.3"/>
<path class="l" d="M331.4 836.3 L341 836.3"/>
<rect class="b" x="294" y="752.7" width="27" height="10.6"/>
<rect class="b" x="294" y="776.8" width="27" height="10.6"/>
<rect class="b" x="294" y="800.9" width="27" height="10.6"/>
<rect class="b" x="294" y="825" width="27" height="10.6"/>
<path class="m" d="M292 877.3 H323.7 A18 18 0 0 1 341.7 895.3 V909.8 A18 18 0 0 1 323.7 927.8 H292 A18 18 0 0 1 274 909.8 V895.3 A18 18 0 0 1 292 877.3Z"/>
<path class="d" d="M292.1 878.9 H323.6 A16.5 16.5 0 0 1 340.1 895.4 V909.7 A16.5 16.5 0 0 1 323.6 926.2 H292.1 A16.5 16.5 0 0 1 275.6 909.7 V895.4 A16.5 16.5 0 0 1 292.1 878.9Z"/>
<path class="l" d="M291.8 886.8 H323.4 A8 8 0 0 1 331.4 894.8 V910.6 A8 8 0 0 1 323.4 918.6 H291.8 A8 8 0 0 1 283.8 910.6 V894.8 A8 8 0 0 1 291.8 886.8Z"/>
<path class="d" d="M291.9 888.4 H323.3 A6.5 6.5 0 0 1 329.8 894.9 V910.5 A6.5 6.5 0 0 1 323.3 917 H291.9 A6.5 6.5 0 0 1 285.4 910.5 V894.9 A6.5 6.5 0 0 1 291.9 888.4Z"/>
<path class="l" d="M293.8 877.3 L293.8 886.8"/>
<path class="l" d="M293.8 918.6 L293.8 927.8"/>
<path class="l" d="M322.2 877.3 L322.2 886.8"/>
<path class="l" d="M322.2 918.6 L322.2 927.8"/>
<path class="l" d="M274 898 L283.8 898"/>
<path class="l" d="M331.4 898 L341.7 898"/>
<path class="l" d="M274 908.3 L283.8 908.3"/>
<path class="l" d="M331.4 908.3 L341.7 908.3"/>
<rect class="b" x="294" y="898.2" width="28" height="10"/>
<circle class="l" cx="261.7" cy="728.2" r="8.8"/>
<circle class="l" cx="261.7" cy="728.2" r="4.6"/>
<rect class="l" x="260.7" y="727.2" width="2" height="2"/>
<circle class="l" cx="261.7" cy="892.5" r="8.8"/>
<circle class="l" cx="261.7" cy="892.5" r="4.6"/>
<rect class="l" x="260.7" y="891.5" width="2" height="2"/>
<path class="l" d="M169 750 L167.2 754.5 V781 L169 784 M167.2 755 H175.8 V781 H167.2 M171 751 L175.8 755 M171.5 784 L175.8 781"/>
<path class="l" d="M352.9 749.5 L348.2 753 V780 L352 783.5 M348.2 754 H357 V780 H348.2 M352.9 749.5 L357 754 M357 780 L353 784"/>
<path class="l" d="M245.7 933.7 H278.3 L275 937 L273.5 942.4 H251.3 L249.5 937 Z"/>
<path class="d" d="M249.5 937 H275"/>
</g>
</svg>
</body></html>
